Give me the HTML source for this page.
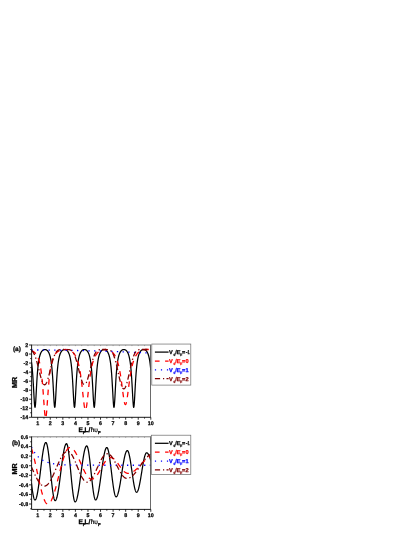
<!DOCTYPE html>
<html><head><meta charset="utf-8"><title>MR</title>
<style>
html,body{margin:0;padding:0;background:#fff;}
body{width:415px;height:537px;overflow:hidden;}
svg{display:block;filter:blur(0.35px);}
text{font-family:"Liberation Sans",sans-serif;font-weight:bold;text-rendering:geometricPrecision;paint-order:stroke;stroke-linejoin:round;}
.tk{font-size:5.3px;fill:#000;stroke:#000;stroke-width:0.25px;}
.lg{font-size:5.6px;stroke-width:0.25px;}
.sb{font-size:3.3px;}
.ax{font-size:6.6px;fill:#000;stroke:#000;stroke-width:0.3px;}
.mr{font-size:7.2px;fill:#000;stroke:#000;stroke-width:0.3px;}
.rg{font-weight:normal;stroke-width:0.2px;}
.sb2{font-size:4.3px;stroke-width:0.3px;}
.pl{font-size:6.5px;fill:#000;stroke:#000;stroke-width:0.25px;}
</style></head><body>
<svg width="415" height="537" viewBox="0 0 415 537">
<defs><clipPath id="ca"><rect x="31.60" y="345.00" width="118.90" height="72.30"/></clipPath><clipPath id="cb"><rect x="31.60" y="436.80" width="118.90" height="72.60"/></clipPath></defs>
<rect width="415" height="537" fill="#fff"/>
<g clip-path="url(#ca)" fill="none" stroke-linejoin="round">
<path d="M31.42,361.80 L31.59,363.01 L31.76,364.34 L31.93,365.81 L32.10,367.41 L32.27,369.18 L32.44,371.11 L32.61,373.22 L32.78,375.52 L32.95,378.02 L33.12,380.70 L33.30,383.56 L33.47,386.58 L33.64,389.71 L33.81,392.88 L33.98,396.03 L34.15,399.03 L34.32,401.76 L34.49,404.08 L34.66,405.86 L34.83,406.98 L35.00,407.36 L35.17,406.98 L35.34,405.86 L35.52,404.08 L35.69,401.76 L35.86,399.02 L36.03,396.02 L36.20,392.88 L36.37,389.70 L36.54,386.57 L36.71,383.56 L36.88,380.70 L37.05,378.01 L37.22,375.52 L37.39,373.22 L37.57,371.11 L37.74,369.17 L37.91,367.41 L38.08,365.80 L38.25,364.34 L38.42,363.01 L38.59,361.80 L38.76,360.69 L38.93,359.69 L39.10,358.77 L39.27,357.93 L39.44,357.17 L39.61,356.47 L39.79,355.83 L39.96,355.24 L40.13,354.71 L40.30,354.21 L40.47,353.76 L40.64,353.34 L40.81,352.96 L40.98,352.61 L41.15,352.29 L41.32,351.99 L41.49,351.72 L41.66,351.47 L41.84,351.24 L42.01,351.03 L42.18,350.83 L42.35,350.66 L42.52,350.50 L42.69,350.35 L42.86,350.22 L43.03,350.10 L43.20,349.99 L43.37,349.90 L43.54,349.81 L43.71,349.74 L43.88,349.68 L44.06,349.63 L44.23,349.59 L44.40,349.56 L44.57,349.53 L44.74,349.52 L44.91,349.52 L45.08,349.53 L45.25,349.54 L45.42,349.57 L45.59,349.60 L45.76,349.65 L45.93,349.70 L46.10,349.77 L46.28,349.85 L46.45,349.94 L46.62,350.04 L46.79,350.15 L46.96,350.27 L47.13,350.41 L47.30,350.56 L47.47,350.73 L47.64,350.91 L47.81,351.11 L47.98,351.33 L48.15,351.57 L48.33,351.83 L48.50,352.11 L48.67,352.42 L48.84,352.76 L49.01,353.12 L49.18,353.52 L49.35,353.95 L49.52,354.42 L49.69,354.93 L49.86,355.48 L50.03,356.09 L50.20,356.76 L50.37,357.48 L50.55,358.28 L50.72,359.15 L50.89,360.10 L51.06,361.15 L51.23,362.30 L51.40,363.56 L51.57,364.94 L51.74,366.47 L51.91,368.14 L52.08,369.97 L52.25,371.98 L52.42,374.17 L52.60,376.55 L52.77,379.13 L52.94,381.89 L53.11,384.82 L53.28,387.89 L53.45,391.05 L53.62,394.22 L53.79,397.32 L53.96,400.22 L54.13,402.80 L54.30,404.91 L54.47,406.42 L54.64,407.23 L54.82,407.29 L54.99,406.59 L55.16,405.18 L55.33,403.16 L55.50,400.64 L55.67,397.78 L55.84,394.71 L56.01,391.54 L56.18,388.37 L56.35,385.28 L56.52,382.33 L56.69,379.54 L56.87,376.94 L57.04,374.52 L57.21,372.30 L57.38,370.27 L57.55,368.41 L57.72,366.71 L57.89,365.17 L58.06,363.76 L58.23,362.48 L58.40,361.32 L58.57,360.26 L58.74,359.29 L58.91,358.41 L59.09,357.60 L59.26,356.86 L59.43,356.19 L59.60,355.58 L59.77,355.01 L59.94,354.49 L60.11,354.02 L60.28,353.58 L60.45,353.18 L60.62,352.81 L60.79,352.47 L60.96,352.16 L61.14,351.87 L61.31,351.61 L61.48,351.37 L61.65,351.15 L61.82,350.94 L61.99,350.76 L62.16,350.59 L62.33,350.43 L62.50,350.29 L62.67,350.17 L62.84,350.05 L63.01,349.95 L63.18,349.86 L63.36,349.78 L63.53,349.71 L63.70,349.66 L63.87,349.61 L64.04,349.57 L64.21,349.55 L64.38,349.53 L64.55,349.52 L64.72,349.52 L64.89,349.53 L65.06,349.55 L65.23,349.58 L65.40,349.62 L65.58,349.67 L65.75,349.73 L65.92,349.80 L66.09,349.88 L66.26,349.98 L66.43,350.08 L66.60,350.20 L66.77,350.33 L66.94,350.47 L67.11,350.63 L67.28,350.81 L67.45,351.00 L67.63,351.20 L67.80,351.43 L67.97,351.68 L68.14,351.95 L68.31,352.24 L68.48,352.56 L68.65,352.91 L68.82,353.28 L68.99,353.69 L69.16,354.14 L69.33,354.63 L69.50,355.16 L69.67,355.74 L69.85,356.37 L70.02,357.06 L70.19,357.81 L70.36,358.64 L70.53,359.54 L70.70,360.53 L70.87,361.62 L71.04,362.81 L71.21,364.13 L71.38,365.57 L71.55,367.15 L71.72,368.89 L71.90,370.80 L72.07,372.88 L72.24,375.15 L72.41,377.62 L72.58,380.27 L72.75,383.11 L72.92,386.10 L73.09,389.22 L73.26,392.39 L73.43,395.55 L73.60,398.58 L73.77,401.36 L73.94,403.75 L74.12,405.62 L74.29,406.85 L74.46,407.35 L74.63,407.08 L74.80,406.08 L74.97,404.39 L75.14,402.15 L75.31,399.47 L75.48,396.50 L75.65,393.37 L75.82,390.19 L75.99,387.05 L76.17,384.02 L76.34,381.13 L76.51,378.42 L76.68,375.89 L76.85,373.56 L77.02,371.42 L77.19,369.46 L77.36,367.67 L77.53,366.04 L77.70,364.56 L77.87,363.21 L78.04,361.98 L78.21,360.86 L78.39,359.84 L78.56,358.91 L78.73,358.06 L78.90,357.28 L79.07,356.57 L79.24,355.92 L79.41,355.33 L79.58,354.79 L79.75,354.29 L79.92,353.83 L80.09,353.41 L80.26,353.02 L80.43,352.66 L80.61,352.34 L80.78,352.04 L80.95,351.76 L81.12,351.51 L81.29,351.27 L81.46,351.06 L81.63,350.86 L81.80,350.68 L81.97,350.52 L82.14,350.37 L82.31,350.24 L82.48,350.12 L82.66,350.01 L82.83,349.91 L83.00,349.83 L83.17,349.75 L83.34,349.69 L83.51,349.64 L83.68,349.59 L83.85,349.56 L84.02,349.54 L84.19,349.52 L84.36,349.52 L84.53,349.52 L84.70,349.54 L84.88,349.56 L85.05,349.60 L85.22,349.64 L85.39,349.70 L85.56,349.76 L85.73,349.84 L85.90,349.92 L86.07,350.02 L86.24,350.13 L86.41,350.25 L86.58,350.39 L86.75,350.54 L86.93,350.70 L87.10,350.88 L87.27,351.08 L87.44,351.30 L87.61,351.53 L87.78,351.79 L87.95,352.07 L88.12,352.37 L88.29,352.70 L88.46,353.06 L88.63,353.45 L88.80,353.88 L88.97,354.34 L89.15,354.85 L89.32,355.40 L89.49,356.00 L89.66,356.65 L89.83,357.37 L90.00,358.15 L90.17,359.01 L90.34,359.95 L90.51,360.98 L90.68,362.11 L90.85,363.35 L91.02,364.72 L91.20,366.22 L91.37,367.87 L91.54,369.68 L91.71,371.66 L91.88,373.82 L92.05,376.17 L92.22,378.72 L92.39,381.45 L92.56,384.35 L92.73,387.41 L92.90,390.55 L93.07,393.73 L93.24,396.85 L93.42,399.79 L93.59,402.43 L93.76,404.61 L93.93,406.23 L94.10,407.15 L94.27,407.33 L94.44,406.75 L94.61,405.44 L94.78,403.50 L94.95,401.06 L95.12,398.24 L95.29,395.19 L95.47,392.03 L95.64,388.86 L95.81,385.75 L95.98,382.78 L96.15,379.96 L96.32,377.33 L96.49,374.89 L96.66,372.64 L96.83,370.57 L97.00,368.69 L97.17,366.97 L97.34,365.40 L97.51,363.97 L97.69,362.67 L97.86,361.49 L98.03,360.41 L98.20,359.43 L98.37,358.54 L98.54,357.72 L98.71,356.97 L98.88,356.29 L99.05,355.67 L99.22,355.09 L99.39,354.57 L99.56,354.09 L99.73,353.65 L99.91,353.24 L100.08,352.87 L100.25,352.52 L100.42,352.21 L100.59,351.92 L100.76,351.65 L100.93,351.40 L101.10,351.18 L101.27,350.97 L101.44,350.79 L101.61,350.61 L101.78,350.46 L101.96,350.31 L102.13,350.18 L102.30,350.07 L102.47,349.97 L102.64,349.87 L102.81,349.79 L102.98,349.72 L103.15,349.67 L103.32,349.62 L103.49,349.58 L103.66,349.55 L103.83,349.53 L104.00,349.52 L104.18,349.52 L104.35,349.53 L104.52,349.55 L104.69,349.58 L104.86,349.61 L105.03,349.66 L105.20,349.72 L105.37,349.79 L105.54,349.87 L105.71,349.96 L105.88,350.06 L106.05,350.18 L106.23,350.31 L106.40,350.45 L106.57,350.61 L106.74,350.78 L106.91,350.97 L107.08,351.17 L107.25,351.39 L107.42,351.64 L107.59,351.90 L107.76,352.19 L107.93,352.51 L108.10,352.85 L108.27,353.22 L108.45,353.63 L108.62,354.07 L108.79,354.55 L108.96,355.07 L109.13,355.64 L109.30,356.26 L109.47,356.94 L109.64,357.69 L109.81,358.50 L109.98,359.39 L110.15,360.37 L110.32,361.44 L110.50,362.62 L110.67,363.92 L110.84,365.34 L111.01,366.90 L111.18,368.61 L111.35,370.49 L111.52,372.55 L111.69,374.79 L111.86,377.22 L112.03,379.85 L112.20,382.66 L112.37,385.63 L112.54,388.73 L112.72,391.90 L112.89,395.06 L113.06,398.12 L113.23,400.95 L113.40,403.41 L113.57,405.37 L113.74,406.71 L113.91,407.32 L114.08,407.18 L114.25,406.28 L114.42,404.69 L114.59,402.53 L114.77,399.91 L114.94,396.97 L115.11,393.86 L115.28,390.69 L115.45,387.53 L115.62,384.48 L115.79,381.57 L115.96,378.82 L116.13,376.27 L116.30,373.91 L116.47,371.74 L116.64,369.76 L116.81,367.94 L116.99,366.29 L117.16,364.78 L117.33,363.41 L117.50,362.16 L117.67,361.02 L117.84,359.99 L118.01,359.04 L118.18,358.18 L118.35,357.40 L118.52,356.68 L118.69,356.02 L118.86,355.42 L119.03,354.87 L119.21,354.36 L119.38,353.90 L119.55,353.47 L119.72,353.08 L119.89,352.72 L120.06,352.39 L120.23,352.08 L120.40,351.80 L120.57,351.54 L120.74,351.31 L120.91,351.09 L121.08,350.89 L121.26,350.71 L121.43,350.54 L121.60,350.39 L121.77,350.26 L121.94,350.13 L122.11,350.02 L122.28,349.93 L122.45,349.84 L122.62,349.76 L122.79,349.70 L122.96,349.64 L123.13,349.60 L123.30,349.56 L123.48,349.54 L123.65,349.52 L123.82,349.52 L123.99,349.52 L124.16,349.54 L124.33,349.56 L124.50,349.59 L124.67,349.63 L124.84,349.69 L125.01,349.75 L125.18,349.82 L125.35,349.91 L125.53,350.00 L125.70,350.11 L125.87,350.23 L126.04,350.37 L126.21,350.51 L126.38,350.68 L126.55,350.85 L126.72,351.05 L126.89,351.26 L127.06,351.50 L127.23,351.75 L127.40,352.02 L127.57,352.32 L127.75,352.65 L127.92,353.00 L128.09,353.39 L128.26,353.81 L128.43,354.27 L128.60,354.76 L128.77,355.31 L128.94,355.90 L129.11,356.54 L129.28,357.25 L129.45,358.02 L129.62,358.87 L129.80,359.80 L129.97,360.81 L130.14,361.93 L130.31,363.15 L130.48,364.50 L130.65,365.98 L130.82,367.60 L130.99,369.39 L131.16,371.34 L131.33,373.47 L131.50,375.79 L131.67,378.31 L131.84,381.01 L132.02,383.89 L132.19,386.92 L132.36,390.06 L132.53,393.24 L132.70,396.37 L132.87,399.35 L133.04,402.04 L133.21,404.31 L133.38,406.02 L133.55,407.06 L133.72,407.35 L133.89,406.89 L134.06,405.69 L134.24,403.84 L134.41,401.47 L134.58,398.70 L134.75,395.68 L134.92,392.52 L135.09,389.35 L135.26,386.23 L135.43,383.23 L135.60,380.39 L135.77,377.72 L135.94,375.25 L136.11,372.97 L136.29,370.88 L136.46,368.97 L136.63,367.22 L136.80,365.63 L136.97,364.18 L137.14,362.87 L137.31,361.67 L137.48,360.57 L137.65,359.58 L137.82,358.67 L137.99,357.84 L138.16,357.09 L138.33,356.39 L138.51,355.76 L138.68,355.18 L138.85,354.65 L139.02,354.16 L139.19,353.71 L139.36,353.30 L139.53,352.92 L139.70,352.57 L139.87,352.25 L140.04,351.96 L140.21,351.69 L140.38,351.44 L140.56,351.21 L140.73,351.00 L140.90,350.81 L141.07,350.64 L141.24,350.48 L141.41,350.33 L141.58,350.20 L141.75,350.09 L141.92,349.98 L142.09,349.89 L142.26,349.81 L142.43,349.73 L142.60,349.67 L142.78,349.62 L142.95,349.58 L143.12,349.55 L143.29,349.53 L143.46,349.52 L143.63,349.52 L143.80,349.53 L143.97,349.54 L144.14,349.57 L144.31,349.61 L144.48,349.65 L144.65,349.71 L144.83,349.78 L145.00,349.86 L145.17,349.95 L145.34,350.05 L145.51,350.16 L145.68,350.29 L145.85,350.43 L146.02,350.58 L146.19,350.75 L146.36,350.94 L146.53,351.14 L146.70,351.36 L146.87,351.60 L147.05,351.86 L147.22,352.15 L147.39,352.46 L147.56,352.80 L147.73,353.16 L147.90,353.56 L148.07,354.00 L148.24,354.47 L148.41,354.99 L148.58,355.55 L148.75,356.16 L148.92,356.84 L149.10,357.57 L149.27,358.37 L149.44,359.25 L149.61,360.21 L149.78,361.27 L149.95,362.43 L150.12,363.71 L150.29,365.11 L150.46,366.65 L150.63,368.34 L150.80,370.19" stroke="#000" stroke-width="1.25"/>
<path d="M31.42,350.53 L31.53,350.57 L31.64,350.62 L31.76,350.67 L31.87,350.72 L31.99,350.77 L32.10,350.83 L32.21,350.88 L32.33,350.94 L32.44,350.99 L32.56,351.05 L32.67,351.12 L32.78,351.18 L32.90,351.24 L33.01,351.31 L33.13,351.38 L33.24,351.45 L33.35,351.53 L33.47,351.60 L33.58,351.68 L33.69,351.76 L33.81,351.84 L33.92,351.93 L34.04,352.01 L34.15,352.10 L34.26,352.20 L34.38,352.29 L34.49,352.39 L34.61,352.49 L34.72,352.60 L34.83,352.71 L34.95,352.82 L35.06,352.93 L35.18,353.05 L35.29,353.17 L35.40,353.30 L35.52,353.43 L35.63,353.56 L35.74,353.70 L35.86,353.85 L35.97,353.99 L36.09,354.15 L36.20,354.30 L36.31,354.47 L36.43,354.63 L36.54,354.81 L36.66,354.99 L36.77,355.17 L36.88,355.37 L37.00,355.56 L37.11,355.77 L37.23,355.98 L37.34,356.20 L37.45,356.43 L37.57,356.67 L37.68,356.91 L37.79,357.17 L37.91,357.43 L38.02,357.70 L38.14,357.98 L38.25,358.28 L38.36,358.58 L38.48,358.90 L38.59,359.23 L38.71,359.57 L38.82,359.92 L38.93,360.29 L39.05,360.67 L39.16,361.07 L39.28,361.48 L39.39,361.91 L39.50,362.36 L39.62,362.82 L39.73,363.31 L39.85,363.81 L39.96,364.34 L40.07,364.88 L40.19,365.45 L40.30,366.05 L40.41,366.67 L40.53,367.31 L40.64,367.98 L40.76,368.68 L40.87,369.41 L40.98,370.17 L41.10,370.97 L41.21,371.80 L41.33,372.66 L41.44,373.56 L41.55,374.49 L41.67,375.46 L41.78,376.48 L41.90,377.53 L42.01,378.63 L42.12,379.77 L42.24,380.95 L42.35,382.18 L42.46,383.45 L42.58,384.77 L42.69,386.12 L42.81,387.52 L42.92,388.97 L43.03,390.45 L43.15,391.97 L43.26,393.52 L43.38,395.09 L43.49,396.70 L43.60,398.32 L43.72,399.95 L43.83,401.58 L43.95,403.20 L44.06,404.81 L44.17,406.38 L44.29,407.92 L44.40,409.40 L44.52,410.81 L44.63,412.13 L44.74,413.36 L44.86,414.48 L44.97,415.47 L45.08,416.33 L45.20,417.03 L45.31,417.58 L45.43,417.96 L45.54,418.16 L45.65,418.19 L45.77,418.05 L45.88,417.73 L46.00,417.24 L46.11,416.59 L46.22,415.79 L46.34,414.84 L46.45,413.77 L46.57,412.58 L46.68,411.28 L46.79,409.90 L46.91,408.44 L47.02,406.93 L47.13,405.36 L47.25,403.77 L47.36,402.15 L47.48,400.52 L47.59,398.89 L47.70,397.26 L47.82,395.65 L47.93,394.07 L48.05,392.51 L48.16,390.98 L48.27,389.48 L48.39,388.03 L48.50,386.61 L48.62,385.24 L48.73,383.91 L48.84,382.62 L48.96,381.38 L49.07,380.18 L49.19,379.02 L49.30,377.91 L49.41,376.84 L49.53,375.82 L49.64,374.83 L49.75,373.88 L49.87,372.97 L49.98,372.09 L50.10,371.25 L50.21,370.45 L50.32,369.68 L50.44,368.94 L50.55,368.22 L50.67,367.54 L50.78,366.89 L50.89,366.26 L51.01,365.66 L51.12,365.08 L51.24,364.53 L51.35,363.99 L51.46,363.48 L51.58,362.99 L51.69,362.52 L51.80,362.07 L51.92,361.63 L52.03,361.21 L52.15,360.81 L52.26,360.42 L52.37,360.05 L52.49,359.69 L52.60,359.34 L52.72,359.01 L52.83,358.69 L52.94,358.38 L53.06,358.09 L53.17,357.80 L53.29,357.52 L53.40,357.26 L53.51,357.00 L53.63,356.75 L53.74,356.51 L53.86,356.28 L53.97,356.06 L54.08,355.84 L54.20,355.64 L54.31,355.43 L54.42,355.24 L54.54,355.05 L54.65,354.87 L54.77,354.69 L54.88,354.52 L54.99,354.36 L55.11,354.20 L55.22,354.05 L55.34,353.90 L55.45,353.75 L55.56,353.61 L55.68,353.48 L55.79,353.35 L55.91,353.22 L56.02,353.09 L56.13,352.97 L56.25,352.86 L56.36,352.75 L56.47,352.64 L56.59,352.53 L56.70,352.43 L56.82,352.33 L56.93,352.23 L57.04,352.14 L57.16,352.05 L57.27,351.96 L57.39,351.87 L57.50,351.79 L57.61,351.71 L57.73,351.63 L57.84,351.55 L57.96,351.48 L58.07,351.41 L58.18,351.34 L58.30,351.27 L58.41,351.20 L58.53,351.14 L58.64,351.08 L58.75,351.02 L58.87,350.96 L58.98,350.90 L59.09,350.84 L59.21,350.79 L59.32,350.74 L59.44,350.69 L59.55,350.64 L59.66,350.59 L59.78,350.54 L59.89,350.50 L60.01,350.46 L60.12,350.41 L60.23,350.37 L60.35,350.33 L60.46,350.29 L60.58,350.26 L60.69,350.22 L60.80,350.19 L60.92,350.15 L61.03,350.12 L61.14,350.09 L61.26,350.06 L61.37,350.03 L61.49,350.00 L61.60,349.97 L61.71,349.94 L61.83,349.92 L61.94,349.89 L62.06,349.87 L62.17,349.84 L62.28,349.82 L62.40,349.80 L62.51,349.78 L62.63,349.76 L62.74,349.74 L62.85,349.72 L62.97,349.71 L63.08,349.69 L63.20,349.68 L63.31,349.66 L63.42,349.65 L63.54,349.63 L63.65,349.62 L63.76,349.61 L63.88,349.60 L63.99,349.59 L64.11,349.58 L64.22,349.57 L64.33,349.56 L64.45,349.55 L64.56,349.55 L64.68,349.54 L64.79,349.54 L64.90,349.53 L65.02,349.53 L65.13,349.52 L65.25,349.52 L65.36,349.52 L65.47,349.52" stroke="#ff0000" stroke-width="1.3" stroke-dasharray="5.5 5" stroke-dashoffset="0.00"/>
<path d="M65.47,349.52 L65.61,349.52 L65.74,349.52 L65.87,349.53 L66.01,349.53 L66.14,349.54 L66.28,349.55 L66.41,349.56 L66.54,349.57 L66.68,349.58 L66.81,349.60 L66.94,349.61 L67.08,349.63 L67.21,349.65 L67.34,349.67 L67.48,349.70 L67.61,349.72 L67.75,349.75 L67.88,349.77 L68.01,349.80 L68.15,349.84 L68.28,349.87 L68.41,349.90 L68.55,349.94 L68.68,349.98 L68.81,350.02 L68.95,350.06 L69.08,350.11 L69.22,350.15 L69.35,350.20 L69.48,350.25 L69.62,350.31 L69.75,350.36 L69.88,350.42 L70.02,350.48 L70.15,350.54 L70.28,350.60 L70.42,350.67 L70.55,350.74 L70.69,350.81 L70.82,350.89 L70.95,350.96 L71.09,351.04 L71.22,351.12 L71.35,351.21 L71.49,351.30 L71.62,351.39 L71.75,351.48 L71.89,351.58 L72.02,351.68 L72.16,351.78 L72.29,351.89 L72.42,352.00 L72.56,352.12 L72.69,352.23 L72.82,352.36 L72.96,352.48 L73.09,352.61 L73.23,352.75 L73.36,352.89 L73.49,353.03 L73.63,353.18 L73.76,353.33 L73.89,353.49 L74.03,353.65 L74.16,353.82 L74.29,354.00 L74.43,354.18 L74.56,354.36 L74.70,354.56 L74.83,354.75 L74.96,354.96 L75.10,355.17 L75.23,355.39 L75.36,355.62 L75.50,355.85 L75.63,356.09 L75.76,356.35 L75.90,356.60 L76.03,356.87 L76.17,357.15 L76.30,357.44 L76.43,357.73 L76.57,358.04 L76.70,358.36 L76.83,358.69 L76.97,359.03 L77.10,359.38 L77.23,359.75 L77.37,360.12 L77.50,360.52 L77.64,360.92 L77.77,361.34 L77.90,361.78 L78.04,362.23 L78.17,362.70 L78.30,363.18 L78.44,363.68 L78.57,364.20 L78.70,364.74 L78.84,365.30 L78.97,365.88 L79.11,366.48 L79.24,367.10 L79.37,367.74 L79.51,368.41 L79.64,369.10 L79.77,369.82 L79.91,370.56 L80.04,371.32 L80.18,372.12 L80.31,372.94 L80.44,373.79 L80.58,374.66 L80.71,375.57 L80.84,376.50 L80.98,377.46 L81.11,378.45 L81.24,379.47 L81.38,380.52 L81.51,381.60 L81.65,382.71 L81.78,383.84 L81.91,384.99 L82.05,386.17 L82.18,387.37 L82.31,388.59 L82.45,389.83 L82.58,391.08 L82.71,392.34 L82.85,393.60 L82.98,394.87 L83.12,396.13 L83.25,397.37 L83.38,398.61 L83.52,399.81 L83.65,400.99 L83.78,402.13 L83.92,403.22 L84.05,404.26 L84.18,405.24 L84.32,406.14 L84.45,406.97 L84.59,407.71 L84.72,408.37 L84.85,408.92 L84.99,409.37 L85.12,409.71 L85.25,409.94 L85.39,410.06 L85.52,410.06 L85.66,409.94 L85.79,409.71 L85.92,409.37 L86.06,408.92 L86.19,408.37 L86.32,407.71 L86.46,406.97 L86.59,406.14 L86.72,405.24 L86.86,404.26 L86.99,403.22 L87.13,402.13 L87.26,400.99 L87.39,399.81 L87.53,398.61 L87.66,397.37 L87.79,396.13 L87.93,394.87 L88.06,393.60 L88.19,392.34 L88.33,391.08 L88.46,389.83 L88.60,388.59 L88.73,387.37 L88.86,386.17 L89.00,384.99 L89.13,383.84 L89.26,382.71 L89.40,381.60 L89.53,380.52 L89.66,379.47 L89.80,378.45 L89.93,377.46 L90.07,376.50 L90.20,375.57 L90.33,374.66 L90.47,373.79 L90.60,372.94 L90.73,372.12 L90.87,371.32 L91.00,370.56 L91.13,369.82 L91.27,369.10 L91.40,368.41 L91.54,367.74 L91.67,367.10 L91.80,366.48 L91.94,365.88 L92.07,365.30 L92.20,364.74 L92.34,364.20 L92.47,363.68 L92.61,363.18 L92.74,362.70 L92.87,362.23 L93.01,361.78 L93.14,361.34 L93.27,360.92 L93.41,360.52 L93.54,360.12 L93.67,359.75 L93.81,359.38 L93.94,359.03 L94.08,358.69 L94.21,358.36 L94.34,358.04 L94.48,357.73 L94.61,357.44 L94.74,357.15 L94.88,356.87 L95.01,356.60 L95.14,356.35 L95.28,356.09 L95.41,355.85 L95.55,355.62 L95.68,355.39 L95.81,355.17 L95.95,354.96 L96.08,354.75 L96.21,354.56 L96.35,354.36 L96.48,354.18 L96.61,354.00 L96.75,353.82 L96.88,353.65 L97.02,353.49 L97.15,353.33 L97.28,353.18 L97.42,353.03 L97.55,352.89 L97.68,352.75 L97.82,352.61 L97.95,352.48 L98.09,352.36 L98.22,352.23 L98.35,352.12 L98.49,352.00 L98.62,351.89 L98.75,351.78 L98.89,351.68 L99.02,351.58 L99.15,351.48 L99.29,351.39 L99.42,351.30 L99.56,351.21 L99.69,351.12 L99.82,351.04 L99.96,350.96 L100.09,350.89 L100.22,350.81 L100.36,350.74 L100.49,350.67 L100.62,350.60 L100.76,350.54 L100.89,350.48 L101.03,350.42 L101.16,350.36 L101.29,350.31 L101.43,350.25 L101.56,350.20 L101.69,350.15 L101.83,350.11 L101.96,350.06 L102.09,350.02 L102.23,349.98 L102.36,349.94 L102.50,349.90 L102.63,349.87 L102.76,349.84 L102.90,349.80 L103.03,349.77 L103.16,349.75 L103.30,349.72 L103.43,349.70 L103.56,349.67 L103.70,349.65 L103.83,349.63 L103.97,349.61 L104.10,349.60 L104.23,349.58 L104.37,349.57 L104.50,349.56 L104.63,349.55 L104.77,349.54 L104.90,349.53 L105.04,349.53 L105.17,349.52 L105.30,349.52 L105.44,349.52" stroke="#ff0000" stroke-width="1.3" stroke-dasharray="5.5 5" stroke-dashoffset="3.05"/>
<path d="M105.44,349.52 L105.59,349.52 L105.74,349.52 L105.89,349.53 L106.04,349.54 L106.19,349.55 L106.35,349.56 L106.50,349.57 L106.65,349.59 L106.80,349.61 L106.95,349.63 L107.11,349.66 L107.26,349.68 L107.41,349.71 L107.56,349.74 L107.71,349.78 L107.86,349.81 L108.02,349.85 L108.17,349.89 L108.32,349.94 L108.47,349.99 L108.62,350.03 L108.77,350.09 L108.93,350.14 L109.08,350.20 L109.23,350.26 L109.38,350.32 L109.53,350.39 L109.68,350.46 L109.84,350.53 L109.99,350.61 L110.14,350.69 L110.29,350.77 L110.44,350.86 L110.59,350.95 L110.75,351.04 L110.90,351.14 L111.05,351.24 L111.20,351.34 L111.35,351.45 L111.51,351.57 L111.66,351.68 L111.81,351.81 L111.96,351.93 L112.11,352.06 L112.26,352.20 L112.42,352.34 L112.57,352.49 L112.72,352.64 L112.87,352.80 L113.02,352.96 L113.17,353.13 L113.33,353.30 L113.48,353.48 L113.63,353.67 L113.78,353.86 L113.93,354.06 L114.08,354.27 L114.24,354.49 L114.39,354.71 L114.54,354.94 L114.69,355.18 L114.84,355.43 L115.00,355.69 L115.15,355.96 L115.30,356.23 L115.45,356.52 L115.60,356.82 L115.75,357.12 L115.91,357.44 L116.06,357.77 L116.21,358.12 L116.36,358.47 L116.51,358.84 L116.66,359.22 L116.82,359.62 L116.97,360.03 L117.12,360.45 L117.27,360.90 L117.42,361.35 L117.57,361.83 L117.73,362.32 L117.88,362.83 L118.03,363.36 L118.18,363.91 L118.33,364.48 L118.48,365.07 L118.64,365.68 L118.79,366.31 L118.94,366.97 L119.09,367.65 L119.24,368.36 L119.40,369.08 L119.55,369.84 L119.70,370.62 L119.85,371.43 L120.00,372.26 L120.15,373.12 L120.31,374.01 L120.46,374.93 L120.61,375.87 L120.76,376.84 L120.91,377.84 L121.06,378.86 L121.22,379.91 L121.37,380.98 L121.52,382.07 L121.67,383.19 L121.82,384.32 L121.97,385.48 L122.13,386.64 L122.28,387.81 L122.43,388.99 L122.58,390.17 L122.73,391.35 L122.88,392.52 L123.04,393.68 L123.19,394.81 L123.34,395.92 L123.49,397.00 L123.64,398.03 L123.80,399.01 L123.95,399.94 L124.10,400.80 L124.25,401.59 L124.40,402.31 L124.55,402.94 L124.71,403.47 L124.86,403.92 L125.01,404.26 L125.16,404.49 L125.31,404.62 L125.46,404.64 L125.62,404.55 L125.77,404.36 L125.92,404.06 L126.07,403.66 L126.22,403.15 L126.37,402.56 L126.53,401.88 L126.68,401.12 L126.83,400.28 L126.98,399.38 L127.13,398.41 L127.29,397.40 L127.44,396.34 L127.59,395.24 L127.74,394.12 L127.89,392.97 L128.04,391.80 L128.20,390.63 L128.35,389.45 L128.50,388.27 L128.65,387.09 L128.80,385.92 L128.95,384.77 L129.11,383.62 L129.26,382.50 L129.41,381.40 L129.56,380.32 L129.71,379.26 L129.86,378.23 L130.02,377.22 L130.17,376.24 L130.32,375.29 L130.47,374.36 L130.62,373.46 L130.77,372.59 L130.93,371.75 L131.08,370.93 L131.23,370.14 L131.38,369.37 L131.53,368.63 L131.69,367.92 L131.84,367.23 L131.99,366.56 L132.14,365.92 L132.29,365.30 L132.44,364.70 L132.60,364.13 L132.75,363.57 L132.90,363.03 L133.05,362.51 L133.20,362.02 L133.35,361.53 L133.51,361.07 L133.66,360.62 L133.81,360.19 L133.96,359.77 L134.11,359.37 L134.26,358.99 L134.42,358.61 L134.57,358.25 L134.72,357.90 L134.87,357.57 L135.02,357.25 L135.17,356.93 L135.33,356.63 L135.48,356.34 L135.63,356.06 L135.78,355.79 L135.93,355.53 L136.09,355.28 L136.24,355.04 L136.39,354.80 L136.54,354.57 L136.69,354.36 L136.84,354.14 L137.00,353.94 L137.15,353.74 L137.30,353.55 L137.45,353.37 L137.60,353.19 L137.75,353.02 L137.91,352.86 L138.06,352.70 L138.21,352.54 L138.36,352.40 L138.51,352.25 L138.66,352.12 L138.82,351.98 L138.97,351.85 L139.12,351.73 L139.27,351.61 L139.42,351.50 L139.58,351.39 L139.73,351.28 L139.88,351.18 L140.03,351.08 L140.18,350.98 L140.33,350.89 L140.49,350.80 L140.64,350.72 L140.79,350.64 L140.94,350.56 L141.09,350.49 L141.24,350.42 L141.40,350.35 L141.55,350.28 L141.70,350.22 L141.85,350.16 L142.00,350.11 L142.15,350.05 L142.31,350.00 L142.46,349.96 L142.61,349.91 L142.76,349.87 L142.91,349.83 L143.06,349.79 L143.22,349.76 L143.37,349.72 L143.52,349.69 L143.67,349.67 L143.82,349.64 L143.98,349.62 L144.13,349.60 L144.28,349.58 L144.43,349.57 L144.58,349.55 L144.73,349.54 L144.89,349.53 L145.04,349.53 L145.19,349.52 L145.34,349.52 L145.49,349.52 L145.64,349.52 L145.80,349.52 L145.95,349.52 L146.10,349.52 L146.25,349.52 L146.40,349.52 L146.55,349.52 L146.71,349.52 L146.86,349.52 L147.01,349.52 L147.16,349.52 L147.31,349.52 L147.46,349.52 L147.62,349.52 L147.77,349.52 L147.92,349.52 L148.07,349.52 L148.22,349.52 L148.38,349.52 L148.53,349.52 L148.68,349.52 L148.83,349.52 L148.98,349.52 L149.13,349.52 L149.29,349.52 L149.44,349.52 L149.59,349.52 L149.74,349.52 L149.89,349.52 L150.04,349.52 L150.20,349.52 L150.35,349.52 L150.50,349.52 L150.65,349.52 L150.80,349.52" stroke="#ff0000" stroke-width="1.3" stroke-dasharray="5.5 5" stroke-dashoffset="3.40"/>
<path d="M31.42,349.98 L31.59,349.98 L31.76,349.98 L31.93,349.98 L32.10,349.98 L32.27,349.98 L32.44,349.98 L32.61,349.98 L32.78,349.98 L32.95,349.98 L33.12,349.98 L33.30,349.98 L33.47,349.98 L33.64,349.99 L33.81,349.99 L33.98,349.99 L34.15,349.99 L34.32,349.99 L34.49,349.99 L34.66,349.99 L34.83,349.99 L35.00,349.99 L35.17,349.99 L35.34,349.99 L35.52,349.99 L35.69,349.99 L35.86,349.99 L36.03,349.99 L36.20,350.00 L36.37,350.00 L36.54,350.00 L36.71,350.00 L36.88,350.00 L37.05,350.00 L37.22,350.00 L37.39,350.00 L37.57,350.00 L37.74,350.00 L37.91,350.00 L38.08,350.00 L38.25,350.01 L38.42,350.01 L38.59,350.01 L38.76,350.01 L38.93,350.01 L39.10,350.01 L39.27,350.01 L39.44,350.01 L39.61,350.01 L39.79,350.01 L39.96,350.01 L40.13,350.02 L40.30,350.02 L40.47,350.02 L40.64,350.02 L40.81,350.02 L40.98,350.02 L41.15,350.02 L41.32,350.02 L41.49,350.02 L41.66,350.03 L41.84,350.03 L42.01,350.03 L42.18,350.03 L42.35,350.03 L42.52,350.03 L42.69,350.03 L42.86,350.03 L43.03,350.03 L43.20,350.04 L43.37,350.04 L43.54,350.04 L43.71,350.04 L43.88,350.04 L44.06,350.04 L44.23,350.04 L44.40,350.04 L44.57,350.05 L44.74,350.05 L44.91,350.05 L45.08,350.05 L45.25,350.05 L45.42,350.05 L45.59,350.05 L45.76,350.06 L45.93,350.06 L46.10,350.06 L46.28,350.06 L46.45,350.06 L46.62,350.06 L46.79,350.06 L46.96,350.07 L47.13,350.07 L47.30,350.07 L47.47,350.07 L47.64,350.07 L47.81,350.07 L47.98,350.08 L48.15,350.08 L48.33,350.08 L48.50,350.08 L48.67,350.08 L48.84,350.08 L49.01,350.08 L49.18,350.09 L49.35,350.09 L49.52,350.09 L49.69,350.09 L49.86,350.09 L50.03,350.09 L50.20,350.10 L50.37,350.10 L50.55,350.10 L50.72,350.10 L50.89,350.10 L51.06,350.11 L51.23,350.11 L51.40,350.11 L51.57,350.11 L51.74,350.11 L51.91,350.11 L52.08,350.12 L52.25,350.12 L52.42,350.12 L52.60,350.12 L52.77,350.12 L52.94,350.13 L53.11,350.13 L53.28,350.13 L53.45,350.13 L53.62,350.13 L53.79,350.14 L53.96,350.14 L54.13,350.14 L54.30,350.14 L54.47,350.14 L54.64,350.15 L54.82,350.15 L54.99,350.15 L55.16,350.15 L55.33,350.15 L55.50,350.16 L55.67,350.16 L55.84,350.16 L56.01,350.16 L56.18,350.16 L56.35,350.17 L56.52,350.17 L56.69,350.17 L56.87,350.17 L57.04,350.17 L57.21,350.18 L57.38,350.18 L57.55,350.18 L57.72,350.18 L57.89,350.19 L58.06,350.19 L58.23,350.19 L58.40,350.19 L58.57,350.19 L58.74,350.20 L58.91,350.20 L59.09,350.20 L59.26,350.20 L59.43,350.21 L59.60,350.21 L59.77,350.21 L59.94,350.21 L60.11,350.22 L60.28,350.22 L60.45,350.22 L60.62,350.22 L60.79,350.23 L60.96,350.23 L61.14,350.23 L61.31,350.23 L61.48,350.24 L61.65,350.24 L61.82,350.24 L61.99,350.24 L62.16,350.25 L62.33,350.25 L62.50,350.25 L62.67,350.25 L62.84,350.26 L63.01,350.26 L63.18,350.26 L63.36,350.26 L63.53,350.27 L63.70,350.27 L63.87,350.27 L64.04,350.27 L64.21,350.28 L64.38,350.28 L64.55,350.28 L64.72,350.28 L64.89,350.29 L65.06,350.29 L65.23,350.29 L65.40,350.30 L65.58,350.30 L65.75,350.30 L65.92,350.30 L66.09,350.31 L66.26,350.31 L66.43,350.31 L66.60,350.32 L66.77,350.32 L66.94,350.32 L67.11,350.32 L67.28,350.33 L67.45,350.33 L67.63,350.33 L67.80,350.34 L67.97,350.34 L68.14,350.34 L68.31,350.34 L68.48,350.35 L68.65,350.35 L68.82,350.35 L68.99,350.36 L69.16,350.36 L69.33,350.36 L69.50,350.36 L69.67,350.37 L69.85,350.37 L70.02,350.37 L70.19,350.38 L70.36,350.38 L70.53,350.38 L70.70,350.39 L70.87,350.39 L71.04,350.39 L71.21,350.40 L71.38,350.40 L71.55,350.40 L71.72,350.41 L71.90,350.41 L72.07,350.41 L72.24,350.42 L72.41,350.42 L72.58,350.42 L72.75,350.42 L72.92,350.43 L73.09,350.43 L73.26,350.43 L73.43,350.44 L73.60,350.44 L73.77,350.44 L73.94,350.45 L74.12,350.45 L74.29,350.45 L74.46,350.46 L74.63,350.46 L74.80,350.46 L74.97,350.47 L75.14,350.47 L75.31,350.47 L75.48,350.48 L75.65,350.48 L75.82,350.49 L75.99,350.49 L76.17,350.49 L76.34,350.50 L76.51,350.50 L76.68,350.50 L76.85,350.51 L77.02,350.51 L77.19,350.51 L77.36,350.52 L77.53,350.52 L77.70,350.52 L77.87,350.53 L78.04,350.53 L78.21,350.53 L78.39,350.54 L78.56,350.54 L78.73,350.55 L78.90,350.55 L79.07,350.55 L79.24,350.56 L79.41,350.56 L79.58,350.56 L79.75,350.57 L79.92,350.57 L80.09,350.58 L80.26,350.58 L80.43,350.58 L80.61,350.59 L80.78,350.59 L80.95,350.59 L81.12,350.60 L81.29,350.60 L81.46,350.61 L81.63,350.61 L81.80,350.61 L81.97,350.62 L82.14,350.62 L82.31,350.63 L82.48,350.63 L82.66,350.63 L82.83,350.64 L83.00,350.64 L83.17,350.65 L83.34,350.65 L83.51,350.65 L83.68,350.66 L83.85,350.66 L84.02,350.67 L84.19,350.67 L84.36,350.67 L84.53,350.68 L84.70,350.68 L84.88,350.69 L85.05,350.69 L85.22,350.69 L85.39,350.70 L85.56,350.70 L85.73,350.71 L85.90,350.71 L86.07,350.71 L86.24,350.72 L86.41,350.72 L86.58,350.73 L86.75,350.73 L86.93,350.74 L87.10,350.74 L87.27,350.74 L87.44,350.75 L87.61,350.75 L87.78,350.76 L87.95,350.76 L88.12,350.77 L88.29,350.77 L88.46,350.77 L88.63,350.78 L88.80,350.78 L88.97,350.79 L89.15,350.79 L89.32,350.80 L89.49,350.80 L89.66,350.80 L89.83,350.81 L90.00,350.81 L90.17,350.82 L90.34,350.82 L90.51,350.83 L90.68,350.83 L90.85,350.84 L91.02,350.84 L91.20,350.84 L91.37,350.85 L91.54,350.85 L91.71,350.86 L91.88,350.86 L92.05,350.87 L92.22,350.87 L92.39,350.88 L92.56,350.88 L92.73,350.89 L92.90,350.89 L93.07,350.90 L93.24,350.90 L93.42,350.90 L93.59,350.91 L93.76,350.91 L93.93,350.92 L94.10,350.92 L94.27,350.93 L94.44,350.93 L94.61,350.94 L94.78,350.94 L94.95,350.95 L95.12,350.95 L95.29,350.96 L95.47,350.96 L95.64,350.97 L95.81,350.97 L95.98,350.98 L96.15,350.98 L96.32,350.99 L96.49,350.99 L96.66,351.00 L96.83,351.00 L97.00,351.01 L97.17,351.01 L97.34,351.02 L97.51,351.02 L97.69,351.02 L97.86,351.03 L98.03,351.03 L98.20,351.04 L98.37,351.04 L98.54,351.05 L98.71,351.05 L98.88,351.06 L99.05,351.06 L99.22,351.07 L99.39,351.08 L99.56,351.08 L99.73,351.09 L99.91,351.09 L100.08,351.10 L100.25,351.10 L100.42,351.11 L100.59,351.11 L100.76,351.12 L100.93,351.12 L101.10,351.13 L101.27,351.13 L101.44,351.14 L101.61,351.14 L101.78,351.15 L101.96,351.15 L102.13,351.16 L102.30,351.16 L102.47,351.17 L102.64,351.17 L102.81,351.18 L102.98,351.18 L103.15,351.19 L103.32,351.20 L103.49,351.20 L103.66,351.21 L103.83,351.21 L104.00,351.22 L104.18,351.22 L104.35,351.23 L104.52,351.23 L104.69,351.24 L104.86,351.24 L105.03,351.25 L105.20,351.25 L105.37,351.26 L105.54,351.27 L105.71,351.27 L105.88,351.28 L106.05,351.28 L106.23,351.29 L106.40,351.29 L106.57,351.30 L106.74,351.30 L106.91,351.31 L107.08,351.32 L107.25,351.32 L107.42,351.33 L107.59,351.33 L107.76,351.34 L107.93,351.34 L108.10,351.35 L108.27,351.36 L108.45,351.36 L108.62,351.37 L108.79,351.37 L108.96,351.38 L109.13,351.38 L109.30,351.39 L109.47,351.40 L109.64,351.40 L109.81,351.41 L109.98,351.41 L110.15,351.42 L110.32,351.42 L110.50,351.43 L110.67,351.44 L110.84,351.44 L111.01,351.45 L111.18,351.45 L111.35,351.46 L111.52,351.47 L111.69,351.47 L111.86,351.48 L112.03,351.48 L112.20,351.49 L112.37,351.50 L112.54,351.50 L112.72,351.51 L112.89,351.51 L113.06,351.52 L113.23,351.52 L113.40,351.53 L113.57,351.54 L113.74,351.54 L113.91,351.55 L114.08,351.56 L114.25,351.56 L114.42,351.57 L114.59,351.57 L114.77,351.58 L114.94,351.59 L115.11,351.59 L115.28,351.60 L115.45,351.60 L115.62,351.61 L115.79,351.62 L115.96,351.62 L116.13,351.63 L116.30,351.64 L116.47,351.64 L116.64,351.65 L116.81,351.65 L116.99,351.66 L117.16,351.67 L117.33,351.67 L117.50,351.68 L117.67,351.69 L117.84,351.69 L118.01,351.70 L118.18,351.70 L118.35,351.71 L118.52,351.72 L118.69,351.72 L118.86,351.73 L119.03,351.74 L119.21,351.74 L119.38,351.75 L119.55,351.76 L119.72,351.76 L119.89,351.77 L120.06,351.78 L120.23,351.78 L120.40,351.79 L120.57,351.79 L120.74,351.80 L120.91,351.81 L121.08,351.81 L121.26,351.82 L121.43,351.83 L121.60,351.83 L121.77,351.84 L121.94,351.85 L122.11,351.85 L122.28,351.86 L122.45,351.87 L122.62,351.87 L122.79,351.88 L122.96,351.89 L123.13,351.89 L123.30,351.90 L123.48,351.91 L123.65,351.91 L123.82,351.92 L123.99,351.93 L124.16,351.93 L124.33,351.94 L124.50,351.95 L124.67,351.96 L124.84,351.96 L125.01,351.97 L125.18,351.98 L125.35,351.98 L125.53,351.99 L125.70,352.00 L125.87,352.00 L126.04,352.01 L126.21,352.02 L126.38,352.02 L126.55,352.03 L126.72,352.04 L126.89,352.04 L127.06,352.05 L127.23,352.06 L127.40,352.07 L127.57,352.07 L127.75,352.08 L127.92,352.09 L128.09,352.09 L128.26,352.10 L128.43,352.11 L128.60,352.11 L128.77,352.12 L128.94,352.13 L129.11,352.14 L129.28,352.14 L129.45,352.15 L129.62,352.16 L129.80,352.16 L129.97,352.17 L130.14,352.18 L130.31,352.19 L130.48,352.19 L130.65,352.20 L130.82,352.21 L130.99,352.22 L131.16,352.22 L131.33,352.23 L131.50,352.24 L131.67,352.24 L131.84,352.25 L132.02,352.26 L132.19,352.27 L132.36,352.27 L132.53,352.28 L132.70,352.29 L132.87,352.30 L133.04,352.30 L133.21,352.31 L133.38,352.32 L133.55,352.32 L133.72,352.33 L133.89,352.34 L134.06,352.35 L134.24,352.35 L134.41,352.36 L134.58,352.37 L134.75,352.38 L134.92,352.38 L135.09,352.39 L135.26,352.40 L135.43,352.41 L135.60,352.41 L135.77,352.42 L135.94,352.43 L136.11,352.44 L136.29,352.45 L136.46,352.45 L136.63,352.46 L136.80,352.47 L136.97,352.48 L137.14,352.48 L137.31,352.49 L137.48,352.50 L137.65,352.51 L137.82,352.51 L137.99,352.52 L138.16,352.53 L138.33,352.54 L138.51,352.54 L138.68,352.55 L138.85,352.56 L139.02,352.57 L139.19,352.58 L139.36,352.58 L139.53,352.59 L139.70,352.60 L139.87,352.61 L140.04,352.62 L140.21,352.62 L140.38,352.63 L140.56,352.64 L140.73,352.65 L140.90,352.65 L141.07,352.66 L141.24,352.67 L141.41,352.68 L141.58,352.69 L141.75,352.69 L141.92,352.70 L142.09,352.71 L142.26,352.72 L142.43,352.73 L142.60,352.73 L142.78,352.74 L142.95,352.75 L143.12,352.76 L143.29,352.77 L143.46,352.77 L143.63,352.78 L143.80,352.79 L143.97,352.80 L144.14,352.81 L144.31,352.82 L144.48,352.82 L144.65,352.83 L144.83,352.84 L145.00,352.85 L145.17,352.86 L145.34,352.86 L145.51,352.87 L145.68,352.88 L145.85,352.89 L146.02,352.90 L146.19,352.91 L146.36,352.91 L146.53,352.92 L146.70,352.93 L146.87,352.94 L147.05,352.95 L147.22,352.96 L147.39,352.96 L147.56,352.97 L147.73,352.98 L147.90,352.99 L148.07,353.00 L148.24,353.01 L148.41,353.01 L148.58,353.02 L148.75,353.03 L148.92,353.04 L149.10,353.05 L149.27,353.06 L149.44,353.07 L149.61,353.07 L149.78,353.08 L149.95,353.09 L150.12,353.10 L150.29,353.11 L150.46,353.12 L150.63,353.13 L150.80,353.13" stroke="#0000ff" stroke-width="1.3" stroke-dasharray="1.3 4.4"/>
<path d="M31.42,350.45 L31.59,350.57 L31.76,350.71 L31.93,350.85 L32.10,351.01 L32.27,351.17 L32.44,351.36 L32.61,351.55 L32.78,351.76 L32.95,351.99 L33.12,352.23 L33.30,352.48 L33.47,352.76 L33.64,353.04 L33.81,353.35 L33.98,353.67 L34.15,354.01 L34.32,354.37 L34.49,354.75 L34.66,355.14 L34.83,355.55 L35.00,355.98 L35.17,356.43 L35.34,356.89 L35.52,357.38 L35.69,357.88 L35.86,358.39 L36.03,358.92 L36.20,359.47 L36.37,360.04 L36.54,360.62 L36.71,361.21 L36.88,361.82 L37.05,362.44 L37.22,363.07 L37.39,363.72 L37.57,364.37 L37.74,365.03 L37.91,365.71 L38.08,366.38 L38.25,367.07 L38.42,367.76 L38.59,368.45 L38.76,369.15 L38.93,369.85 L39.10,370.54 L39.27,371.24 L39.44,371.93 L39.61,372.62 L39.79,373.30 L39.96,373.98 L40.13,374.65 L40.30,375.30 L40.47,375.95 L40.64,376.58 L40.81,377.20 L40.98,377.80 L41.15,378.39 L41.32,378.95 L41.49,379.50 L41.66,380.03 L41.84,380.53 L42.01,381.01 L42.18,381.47 L42.35,381.90 L42.52,382.30 L42.69,382.68 L42.86,383.02 L43.03,383.34 L43.20,383.63 L43.37,383.88 L43.54,384.11 L43.71,384.30 L43.88,384.46 L44.06,384.59 L44.23,384.68 L44.40,384.74 L44.57,384.76 L44.74,384.76 L44.91,384.71 L45.08,384.64 L45.25,384.53 L45.42,384.39 L45.59,384.21 L45.76,384.00 L45.93,383.76 L46.10,383.49 L46.28,383.19 L46.45,382.86 L46.62,382.50 L46.79,382.11 L46.96,381.69 L47.13,381.25 L47.30,380.78 L47.47,380.29 L47.64,379.77 L47.81,379.24 L47.98,378.68 L48.15,378.11 L48.33,377.51 L48.50,376.90 L48.67,376.28 L48.84,375.64 L49.01,374.99 L49.18,374.32 L49.35,373.65 L49.52,372.97 L49.69,372.29 L49.86,371.60 L50.03,370.90 L50.20,370.21 L50.37,369.51 L50.55,368.81 L50.72,368.12 L50.89,367.42 L51.06,366.74 L51.23,366.05 L51.40,365.38 L51.57,364.71 L51.74,364.05 L51.91,363.40 L52.08,362.76 L52.25,362.14 L52.42,361.52 L52.60,360.92 L52.77,360.33 L52.94,359.76 L53.11,359.21 L53.28,358.66 L53.45,358.14 L53.62,357.63 L53.79,357.14 L53.96,356.67 L54.13,356.21 L54.30,355.77 L54.47,355.35 L54.64,354.95 L54.82,354.56 L54.99,354.20 L55.16,353.85 L55.33,353.52 L55.50,353.20 L55.67,352.90 L55.84,352.62 L56.01,352.36 L56.18,352.11 L56.35,351.88 L56.52,351.66 L56.69,351.45 L56.87,351.27 L57.04,351.09 L57.21,350.93 L57.38,350.78 L57.55,350.64 L57.72,350.51 L57.89,350.40 L58.06,350.29 L58.23,350.20 L58.40,350.11 L58.57,350.03 L58.74,349.96 L58.91,349.90 L59.09,349.85 L59.26,349.80 L59.43,349.76 L59.60,349.72 L59.77,349.68 L59.94,349.66 L60.11,349.63 L60.28,349.61 L60.45,349.59 L60.62,349.58 L60.79,349.57 L60.96,349.55 L61.14,349.55 L61.31,349.54 L61.48,349.53 L61.65,349.53 L61.82,349.53 L61.99,349.52 L62.16,349.52 L62.33,349.52 L62.50,349.52 L62.67,349.52 L62.84,349.52 L63.01,349.52 L63.18,349.52 L63.36,349.52 L63.53,349.52 L63.70,349.52 L63.87,349.52 L64.04,349.52 L64.21,349.52 L64.38,349.52 L64.55,349.52 L64.72,349.52 L64.89,349.52 L65.06,349.52 L65.23,349.52 L65.40,349.52 L65.58,349.52 L65.75,349.52 L65.92,349.52 L66.09,349.52 L66.26,349.52 L66.43,349.52 L66.60,349.52 L66.77,349.52 L66.94,349.52 L67.11,349.52 L67.28,349.53 L67.45,349.53 L67.63,349.54 L67.80,349.54 L67.97,349.55 L68.14,349.56 L68.31,349.57 L68.48,349.58 L68.65,349.60 L68.82,349.61 L68.99,349.64 L69.16,349.66 L69.33,349.69 L69.50,349.72 L69.67,349.76 L69.85,349.81 L70.02,349.86 L70.19,349.91 L70.36,349.98 L70.53,350.05 L70.70,350.13 L70.87,350.22 L71.04,350.31 L71.21,350.42 L71.38,350.54 L71.55,350.67 L71.72,350.80 L71.90,350.96 L72.07,351.12 L72.24,351.30 L72.41,351.49 L72.58,351.69 L72.75,351.91 L72.92,352.15 L73.09,352.40 L73.26,352.67 L73.43,352.95 L73.60,353.25 L73.77,353.57 L73.94,353.90 L74.12,354.25 L74.29,354.62 L74.46,355.01 L74.63,355.41 L74.80,355.83 L74.97,356.27 L75.14,356.73 L75.31,357.21 L75.48,357.70 L75.65,358.21 L75.82,358.73 L75.99,359.27 L76.17,359.83 L76.34,360.40 L76.51,360.99 L76.68,361.59 L76.85,362.20 L77.02,362.83 L77.19,363.47 L77.36,364.11 L77.53,364.77 L77.70,365.44 L77.87,366.11 L78.04,366.79 L78.21,367.47 L78.39,368.16 L78.56,368.85 L78.73,369.55 L78.90,370.24 L79.07,370.93 L79.24,371.62 L79.41,372.31 L79.58,372.99 L79.75,373.66 L79.92,374.32 L80.09,374.98 L80.26,375.62 L80.43,376.25 L80.61,376.87 L80.78,377.47 L80.95,378.06 L81.12,378.63 L81.29,379.18 L81.46,379.71 L81.63,380.21 L81.80,380.69 L81.97,381.15 L82.14,381.59 L82.31,381.99 L82.48,382.37 L82.66,382.73 L82.83,383.05 L83.00,383.34 L83.17,383.60 L83.34,383.83 L83.51,384.03 L83.68,384.20 L83.85,384.33 L84.02,384.43 L84.19,384.50 L84.36,384.53 L84.53,384.53 L84.70,384.50 L84.88,384.43 L85.05,384.33 L85.22,384.20 L85.39,384.03 L85.56,383.84 L85.73,383.60 L85.90,383.34 L86.07,383.05 L86.24,382.73 L86.41,382.38 L86.58,382.00 L86.75,381.59 L86.93,381.16 L87.10,380.70 L87.27,380.21 L87.44,379.71 L87.61,379.18 L87.78,378.63 L87.95,378.06 L88.12,377.48 L88.29,376.88 L88.46,376.26 L88.63,375.63 L88.80,374.98 L88.97,374.33 L89.15,373.66 L89.32,372.99 L89.49,372.31 L89.66,371.63 L89.83,370.94 L90.00,370.24 L90.17,369.55 L90.34,368.86 L90.51,368.17 L90.68,367.48 L90.85,366.79 L91.02,366.11 L91.20,365.44 L91.37,364.78 L91.54,364.12 L91.71,363.47 L91.88,362.83 L92.05,362.21 L92.22,361.59 L92.39,360.99 L92.56,360.41 L92.73,359.83 L92.90,359.28 L93.07,358.74 L93.24,358.21 L93.42,357.70 L93.59,357.21 L93.76,356.73 L93.93,356.28 L94.10,355.84 L94.27,355.41 L94.44,355.01 L94.61,354.62 L94.78,354.25 L94.95,353.90 L95.12,353.57 L95.29,353.25 L95.47,352.95 L95.64,352.67 L95.81,352.40 L95.98,352.15 L96.15,351.92 L96.32,351.70 L96.49,351.49 L96.66,351.30 L96.83,351.12 L97.00,350.96 L97.17,350.81 L97.34,350.67 L97.51,350.54 L97.69,350.42 L97.86,350.31 L98.03,350.22 L98.20,350.13 L98.37,350.05 L98.54,349.98 L98.71,349.91 L98.88,349.86 L99.05,349.81 L99.22,349.76 L99.39,349.72 L99.56,349.69 L99.73,349.66 L99.91,349.64 L100.08,349.61 L100.25,349.60 L100.42,349.58 L100.59,349.57 L100.76,349.56 L100.93,349.55 L101.10,349.54 L101.27,349.54 L101.44,349.53 L101.61,349.53 L101.78,349.53 L101.96,349.52 L102.13,349.52 L102.30,349.52 L102.47,349.52 L102.64,349.52 L102.81,349.52 L102.98,349.52 L103.15,349.52 L103.32,349.52 L103.49,349.52 L103.66,349.52 L103.83,349.52 L104.00,349.52 L104.18,349.52 L104.35,349.52 L104.52,349.52 L104.69,349.52 L104.86,349.52 L105.03,349.52 L105.20,349.52 L105.37,349.52 L105.54,349.52 L105.71,349.52 L105.88,349.52 L106.05,349.52 L106.23,349.52 L106.40,349.53 L106.57,349.53 L106.74,349.53 L106.91,349.54 L107.08,349.54 L107.25,349.55 L107.42,349.56 L107.59,349.57 L107.76,349.58 L107.93,349.60 L108.10,349.62 L108.27,349.64 L108.45,349.67 L108.62,349.70 L108.79,349.74 L108.96,349.78 L109.13,349.83 L109.30,349.88 L109.47,349.94 L109.64,350.01 L109.81,350.09 L109.98,350.18 L110.15,350.27 L110.32,350.38 L110.50,350.49 L110.67,350.62 L110.84,350.76 L111.01,350.91 L111.18,351.08 L111.35,351.26 L111.52,351.45 L111.69,351.66 L111.86,351.89 L112.03,352.13 L112.20,352.39 L112.37,352.67 L112.54,352.96 L112.72,353.27 L112.89,353.60 L113.06,353.95 L113.23,354.32 L113.40,354.71 L113.57,355.12 L113.74,355.55 L113.91,356.00 L114.08,356.46 L114.25,356.95 L114.42,357.46 L114.59,357.99 L114.77,358.53 L114.94,359.10 L115.11,359.68 L115.28,360.28 L115.45,360.90 L115.62,361.54 L115.79,362.20 L115.96,362.86 L116.13,363.55 L116.30,364.25 L116.47,364.96 L116.64,365.68 L116.81,366.42 L116.99,367.16 L117.16,367.91 L117.33,368.68 L117.50,369.44 L117.67,370.21 L117.84,370.99 L118.01,371.77 L118.18,372.54 L118.35,373.32 L118.52,374.10 L118.69,374.87 L118.86,375.63 L119.03,376.39 L119.21,377.14 L119.38,377.88 L119.55,378.61 L119.72,379.32 L119.89,380.02 L120.06,380.70 L120.23,381.36 L120.40,382.01 L120.57,382.63 L120.74,383.23 L120.91,383.80 L121.08,384.35 L121.26,384.88 L121.43,385.37 L121.60,385.84 L121.77,386.28 L121.94,386.68 L122.11,387.05 L122.28,387.39 L122.45,387.70 L122.62,387.97 L122.79,388.20 L122.96,388.40 L123.13,388.56 L123.30,388.68 L123.48,388.77 L123.65,388.82 L123.82,388.83 L123.99,388.80 L124.16,388.74 L124.33,388.64 L124.50,388.50 L124.67,388.33 L124.84,388.11 L125.01,387.87 L125.18,387.58 L125.35,387.26 L125.53,386.91 L125.70,386.53 L125.87,386.11 L126.04,385.66 L126.21,385.18 L126.38,384.68 L126.55,384.14 L126.72,383.58 L126.89,383.00 L127.06,382.39 L127.23,381.76 L127.40,381.11 L127.57,380.44 L127.75,379.75 L127.92,379.04 L128.09,378.32 L128.26,377.59 L128.43,376.85 L128.60,376.10 L128.77,375.34 L128.94,374.57 L129.11,373.80 L129.28,373.02 L129.45,372.24 L129.62,371.46 L129.80,370.69 L129.97,369.91 L130.14,369.14 L130.31,368.38 L130.48,367.62 L130.65,366.87 L130.82,366.13 L130.99,365.40 L131.16,364.68 L131.33,363.97 L131.50,363.28 L131.67,362.60 L131.84,361.94 L132.02,361.29 L132.19,360.66 L132.36,360.05 L132.53,359.45 L132.70,358.88 L132.87,358.32 L133.04,357.78 L133.21,357.26 L133.38,356.76 L133.55,356.28 L133.72,355.82 L133.89,355.38 L134.06,354.96 L134.24,354.56 L134.41,354.18 L134.58,353.82 L134.75,353.47 L134.92,353.15 L135.09,352.84 L135.26,352.56 L135.43,352.29 L135.60,352.04 L135.77,351.80 L135.94,351.58 L136.11,351.38 L136.29,351.19 L136.46,351.01 L136.63,350.85 L136.80,350.70 L136.97,350.57 L137.14,350.45 L137.31,350.33 L137.48,350.23 L137.65,350.14 L137.82,350.06 L137.99,349.98 L138.16,349.92 L138.33,349.86 L138.51,349.81 L138.68,349.76 L138.85,349.72 L139.02,349.69 L139.19,349.66 L139.36,349.63 L139.53,349.61 L139.70,349.59 L139.87,349.58 L140.04,349.57 L140.21,349.55 L140.38,349.55 L140.56,349.54 L140.73,349.53 L140.90,349.53 L141.07,349.53 L141.24,349.52 L141.41,349.52 L141.58,349.52 L141.75,349.52 L141.92,349.52 L142.09,349.52 L142.26,349.52 L142.43,349.52 L142.60,349.52 L142.78,349.52 L142.95,349.52 L143.12,349.52 L143.29,349.52 L143.46,349.52 L143.63,349.52 L143.80,349.52 L143.97,349.52 L144.14,349.52 L144.31,349.52 L144.48,349.52 L144.65,349.52 L144.83,349.52 L145.00,349.52 L145.17,349.52 L145.34,349.52 L145.51,349.52 L145.68,349.52 L145.85,349.52 L146.02,349.52 L146.19,349.52 L146.36,349.52 L146.53,349.52 L146.70,349.52 L146.87,349.52 L147.05,349.52 L147.22,349.52 L147.39,349.52 L147.56,349.52 L147.73,349.52 L147.90,349.52 L148.07,349.52 L148.24,349.52 L148.41,349.52 L148.58,349.52 L148.75,349.52 L148.92,349.52 L149.10,349.52 L149.27,349.52 L149.44,349.52 L149.61,349.52 L149.78,349.52 L149.95,349.52 L150.12,349.52 L150.29,349.52 L150.46,349.52 L150.63,349.52 L150.80,349.52" stroke="#800000" stroke-width="1.3" stroke-dasharray="5.5 2.8 1.3 2.4"/>
</g>
<path d="M31.60,345.00 H150.50" fill="none" stroke="#707070" stroke-width="0.9"/>
<path d="M150.50,344.60 V417.30" fill="none" stroke="#444" stroke-width="0.8"/>
<path d="M31.60,344.70 V417.30 H150.80" fill="none" stroke="#000" stroke-width="0.9"/>
<path d="M31.60,345.00 h-2.6 M31.60,354.04 h-2.6 M31.60,363.07 h-2.6 M31.60,372.11 h-2.6 M31.60,381.15 h-2.6 M31.60,390.19 h-2.6 M31.60,399.23 h-2.6 M31.60,408.26 h-2.6 M31.60,417.30 h-2.6 M31.60,349.52 h-1.4 M31.60,358.56 h-1.4 M31.60,367.59 h-1.4 M31.60,376.63 h-1.4 M31.60,385.67 h-1.4 M31.60,394.71 h-1.4 M31.60,403.74 h-1.4 M31.60,412.78 h-1.4 M37.70,417.30 v2.4 M50.27,417.30 v2.4 M62.83,417.30 v2.4 M75.40,417.30 v2.4 M87.97,417.30 v2.4 M100.53,417.30 v2.4 M113.10,417.30 v2.4 M125.67,417.30 v2.4 M138.24,417.30 v2.4 M150.80,417.30 v2.4 M43.98,417.30 v1.3 M56.55,417.30 v1.3 M69.12,417.30 v1.3 M81.68,417.30 v1.3 M94.25,417.30 v1.3 M106.82,417.30 v1.3 M119.39,417.30 v1.3 M131.95,417.30 v1.3 M144.52,417.30 v1.3 " stroke="#000" stroke-width="0.8" fill="none"/>
<path d="M37.70,345.00 v1.1 M43.98,345.00 v1.1 M50.27,345.00 v1.1 M56.55,345.00 v1.1 M62.83,345.00 v1.1 M69.12,345.00 v1.1 M75.40,345.00 v1.1 M81.68,345.00 v1.1 M87.97,345.00 v1.1 M94.25,345.00 v1.1 M100.53,345.00 v1.1 M106.82,345.00 v1.1 M113.10,345.00 v1.1 M119.39,345.00 v1.1 M125.67,345.00 v1.1 M131.95,345.00 v1.1 M138.24,345.00 v1.1 M144.52,345.00 v1.1 M150.80,345.00 v1.1 " stroke="#808080" stroke-width="0.6" fill="none"/>
<text x="28.2" y="346.85" text-anchor="end" class="tk">2</text>
<text x="28.2" y="355.89" text-anchor="end" class="tk">0</text>
<text x="28.2" y="364.93" text-anchor="end" class="tk">-2</text>
<text x="28.2" y="373.96" text-anchor="end" class="tk">-4</text>
<text x="28.2" y="383.00" text-anchor="end" class="tk">-6</text>
<text x="28.2" y="392.04" text-anchor="end" class="tk">-8</text>
<text x="28.2" y="401.08" text-anchor="end" class="tk">-10</text>
<text x="28.2" y="410.11" text-anchor="end" class="tk">-12</text>
<text x="28.2" y="419.15" text-anchor="end" class="tk">-14</text>
<text x="37.70" y="424.70" text-anchor="middle" class="tk">1</text>
<text x="50.27" y="424.70" text-anchor="middle" class="tk">2</text>
<text x="62.83" y="424.70" text-anchor="middle" class="tk">3</text>
<text x="75.40" y="424.70" text-anchor="middle" class="tk">4</text>
<text x="87.97" y="424.70" text-anchor="middle" class="tk">5</text>
<text x="100.53" y="424.70" text-anchor="middle" class="tk">6</text>
<text x="113.10" y="424.70" text-anchor="middle" class="tk">7</text>
<text x="125.67" y="424.70" text-anchor="middle" class="tk">8</text>
<text x="138.24" y="424.70" text-anchor="middle" class="tk">9</text>
<text x="150.80" y="424.70" text-anchor="middle" class="tk">10</text>
<rect x="151.80" y="344.05" width="39.00" height="41.05" fill="#fff" stroke="#6a6a6a" stroke-width="0.7"/>
<path d="M154.9,352.10 H168.6" stroke="#000" stroke-width="1.25" fill="none"/>
<text class="lg" fill="#000" stroke="#000"><tspan x="169.10" y="354.15">V</tspan><tspan x="173.40" y="356.15" class="sb">0</tspan><tspan x="175.20" y="354.15">/</tspan><tspan x="176.75" y="354.15">E</tspan><tspan x="180.25" y="356.15" class="sb">F</tspan><tspan x="182.10" y="354.15">=</tspan><tspan x="185.85" y="354.15">-</tspan></text>
<text class="lg" fill="#000" stroke="#000" transform="translate(187.55,354.15) scale(0.7,1)">1</text>
<path d="M154.9,361.05 H168.6" stroke="#ff0000" stroke-width="1.25" fill="none" stroke-dasharray="4.7 5.5"/>
<text class="lg" fill="#ff0000" stroke="#ff0000"><tspan x="169.10" y="363.10">V</tspan><tspan x="173.40" y="365.10" class="sb">0</tspan><tspan x="175.20" y="363.10">/</tspan><tspan x="176.75" y="363.10">E</tspan><tspan x="180.25" y="365.10" class="sb">F</tspan><tspan x="182.10" y="363.10">=</tspan><tspan x="185.50" y="363.10">0</tspan></text>
<path d="M154.9,369.80 H168.6" stroke="#0000ff" stroke-width="1.25" fill="none" stroke-dasharray="1.2 4.8"/>
<text class="lg" fill="#0000ff" stroke="#0000ff"><tspan x="169.10" y="371.85">V</tspan><tspan x="173.40" y="373.85" class="sb">0</tspan><tspan x="175.20" y="371.85">/</tspan><tspan x="176.75" y="371.85">E</tspan><tspan x="180.25" y="373.85" class="sb">F</tspan><tspan x="182.10" y="371.85">=</tspan><tspan x="185.50" y="371.85">1</tspan></text>
<path d="M154.9,378.50 H168.6" stroke="#800000" stroke-width="1.25" fill="none" stroke-dasharray="5.2 2.9 1.2 2.3"/>
<text class="lg" fill="#800000" stroke="#800000"><tspan x="169.10" y="380.55">V</tspan><tspan x="173.40" y="382.55" class="sb">0</tspan><tspan x="175.20" y="380.55">/</tspan><tspan x="176.75" y="380.55">E</tspan><tspan x="180.25" y="382.55" class="sb">F</tspan><tspan x="182.10" y="380.55">=</tspan><tspan x="185.50" y="380.55">2</tspan></text>
<text x="12.9" y="351.4" class="pl">(a)</text>
<text transform="translate(17.1,382.5) rotate(-90)" text-anchor="middle" class="mr">MR</text>
<text class="ax"><tspan x="78.56" y="432.00">E</tspan><tspan x="82.85" y="434.00" class="sb2">F</tspan><tspan x="84.60" y="432.00">L</tspan><tspan x="88.40" y="432.00">/</tspan><tspan x="90.70" y="432.00" class="rg">ħ</tspan><tspan x="94.35" y="432.00" class="rg">υ</tspan><tspan x="97.90" y="434.00" class="sb2">F</tspan></text>
<g clip-path="url(#cb)" fill="none" stroke-linejoin="round">
<path d="M31.42,482.89 L31.59,484.31 L31.76,485.69 L31.93,487.02 L32.10,488.31 L32.27,489.55 L32.44,490.74 L32.61,491.86 L32.78,492.93 L32.95,493.93 L33.12,494.86 L33.30,495.72 L33.47,496.51 L33.64,497.23 L33.81,497.86 L33.98,498.42 L34.15,498.89 L34.32,499.28 L34.49,499.58 L34.66,499.80 L34.83,499.94 L35.00,499.98 L35.17,499.95 L35.34,499.85 L35.52,499.68 L35.69,499.44 L35.86,499.13 L36.03,498.75 L36.20,498.30 L36.37,497.79 L36.54,497.21 L36.71,496.57 L36.88,495.87 L37.05,495.11 L37.22,494.29 L37.39,493.41 L37.57,492.48 L37.74,491.50 L37.91,490.47 L38.08,489.39 L38.25,488.27 L38.42,487.10 L38.59,485.90 L38.76,484.66 L38.93,483.39 L39.10,482.09 L39.27,480.76 L39.44,479.41 L39.61,478.04 L39.79,476.65 L39.96,475.25 L40.13,473.84 L40.30,472.42 L40.47,471.00 L40.64,469.58 L40.81,468.17 L40.98,466.76 L41.15,465.36 L41.32,463.98 L41.49,462.62 L41.66,461.27 L41.84,459.95 L42.01,458.66 L42.18,457.40 L42.35,456.17 L42.52,454.98 L42.69,453.83 L42.86,452.72 L43.03,451.66 L43.20,450.65 L43.37,449.68 L43.54,448.77 L43.71,447.91 L43.88,447.11 L44.06,446.37 L44.23,445.69 L44.40,445.07 L44.57,444.52 L44.74,444.03 L44.91,443.60 L45.08,443.25 L45.25,442.96 L45.42,442.74 L45.59,442.60 L45.76,442.52 L45.93,442.51 L46.10,442.60 L46.28,442.78 L46.45,443.06 L46.62,443.43 L46.79,443.90 L46.96,444.45 L47.13,445.10 L47.30,445.84 L47.47,446.66 L47.64,447.57 L47.81,448.55 L47.98,449.62 L48.15,450.75 L48.33,451.96 L48.50,453.23 L48.67,454.56 L48.84,455.94 L49.01,457.38 L49.18,458.87 L49.35,460.40 L49.52,461.97 L49.69,463.56 L49.86,465.19 L50.03,466.84 L50.20,468.50 L50.37,470.17 L50.55,471.85 L50.72,473.52 L50.89,475.19 L51.06,476.85 L51.23,478.49 L51.40,480.11 L51.57,481.70 L51.74,483.25 L51.91,484.77 L52.08,486.24 L52.25,487.66 L52.42,489.03 L52.60,490.35 L52.77,491.59 L52.94,492.78 L53.11,493.89 L53.28,494.93 L53.45,495.89 L53.62,496.77 L53.79,497.56 L53.96,498.27 L54.13,498.89 L54.30,499.42 L54.47,499.86 L54.64,500.20 L54.82,500.45 L54.99,500.60 L55.16,500.65 L55.33,500.63 L55.50,500.53 L55.67,500.38 L55.84,500.16 L56.01,499.88 L56.18,499.53 L56.35,499.13 L56.52,498.66 L56.69,498.13 L56.87,497.55 L57.04,496.91 L57.21,496.21 L57.38,495.46 L57.55,494.65 L57.72,493.80 L57.89,492.90 L58.06,491.95 L58.23,490.95 L58.40,489.92 L58.57,488.84 L58.74,487.73 L58.91,486.58 L59.09,485.40 L59.26,484.18 L59.43,482.95 L59.60,481.68 L59.77,480.40 L59.94,479.10 L60.11,477.78 L60.28,476.45 L60.45,475.11 L60.62,473.76 L60.79,472.41 L60.96,471.06 L61.14,469.71 L61.31,468.37 L61.48,467.04 L61.65,465.72 L61.82,464.41 L61.99,463.12 L62.16,461.85 L62.33,460.60 L62.50,459.38 L62.67,458.19 L62.84,457.03 L63.01,455.90 L63.18,454.81 L63.36,453.76 L63.53,452.75 L63.70,451.78 L63.87,450.87 L64.04,449.99 L64.21,449.17 L64.38,448.40 L64.55,447.69 L64.72,447.02 L64.89,446.42 L65.06,445.87 L65.23,445.38 L65.40,444.96 L65.58,444.59 L65.75,444.29 L65.92,444.05 L66.09,443.87 L66.26,443.75 L66.43,443.70 L66.60,443.73 L66.77,443.86 L66.94,444.11 L67.11,444.47 L67.28,444.93 L67.45,445.50 L67.63,446.17 L67.80,446.95 L67.97,447.83 L68.14,448.80 L68.31,449.86 L68.48,451.01 L68.65,452.24 L68.82,453.56 L68.99,454.94 L69.16,456.40 L69.33,457.91 L69.50,459.49 L69.67,461.11 L69.85,462.78 L70.02,464.49 L70.19,466.23 L70.36,467.99 L70.53,469.78 L70.70,471.57 L70.87,473.37 L71.04,475.17 L71.21,476.95 L71.38,478.72 L71.55,480.47 L71.72,482.19 L71.90,483.87 L72.07,485.52 L72.24,487.11 L72.41,488.64 L72.58,490.12 L72.75,491.53 L72.92,492.87 L73.09,494.13 L73.26,495.31 L73.43,496.40 L73.60,497.40 L73.77,498.31 L73.94,499.12 L74.12,499.83 L74.29,500.44 L74.46,500.94 L74.63,501.33 L74.80,501.62 L74.97,501.79 L75.14,501.85 L75.31,501.82 L75.48,501.74 L75.65,501.59 L75.82,501.38 L75.99,501.12 L76.17,500.79 L76.34,500.41 L76.51,499.97 L76.68,499.47 L76.85,498.92 L77.02,498.32 L77.19,497.66 L77.36,496.95 L77.53,496.19 L77.70,495.39 L77.87,494.53 L78.04,493.64 L78.21,492.70 L78.39,491.72 L78.56,490.70 L78.73,489.64 L78.90,488.55 L79.07,487.43 L79.24,486.28 L79.41,485.11 L79.58,483.91 L79.75,482.68 L79.92,481.44 L80.09,480.18 L80.26,478.91 L80.43,477.63 L80.61,476.34 L80.78,475.05 L80.95,473.75 L81.12,472.45 L81.29,471.16 L81.46,469.87 L81.63,468.59 L81.80,467.32 L81.97,466.06 L82.14,464.83 L82.31,463.61 L82.48,462.41 L82.66,461.24 L82.83,460.10 L83.00,458.98 L83.17,457.90 L83.34,456.85 L83.51,455.84 L83.68,454.87 L83.85,453.93 L84.02,453.05 L84.19,452.20 L84.36,451.40 L84.53,450.66 L84.70,449.96 L84.88,449.31 L85.05,448.72 L85.22,448.18 L85.39,447.69 L85.56,447.26 L85.73,446.89 L85.90,446.58 L86.07,446.32 L86.24,446.13 L86.41,445.99 L86.58,445.92 L86.75,445.91 L86.93,445.98 L87.10,446.15 L87.27,446.42 L87.44,446.78 L87.61,447.24 L87.78,447.79 L87.95,448.43 L88.12,449.16 L88.29,449.98 L88.46,450.88 L88.63,451.86 L88.80,452.92 L88.97,454.04 L89.15,455.24 L89.32,456.50 L89.49,457.82 L89.66,459.20 L89.83,460.62 L90.00,462.09 L90.17,463.60 L90.34,465.14 L90.51,466.71 L90.68,468.30 L90.85,469.91 L91.02,471.53 L91.20,473.16 L91.37,474.78 L91.54,476.40 L91.71,478.01 L91.88,479.59 L92.05,481.16 L92.22,482.69 L92.39,484.19 L92.56,485.65 L92.73,487.06 L92.90,488.42 L93.07,489.72 L93.24,490.97 L93.42,492.15 L93.59,493.26 L93.76,494.29 L93.93,495.25 L94.10,496.13 L94.27,496.92 L94.44,497.63 L94.61,498.25 L94.78,498.78 L94.95,499.21 L95.12,499.55 L95.29,499.79 L95.47,499.94 L95.64,499.98 L95.81,499.95 L95.98,499.86 L96.15,499.71 L96.32,499.50 L96.49,499.23 L96.66,498.90 L96.83,498.51 L97.00,498.07 L97.17,497.57 L97.34,497.02 L97.51,496.41 L97.69,495.75 L97.86,495.04 L98.03,494.28 L98.20,493.47 L98.37,492.62 L98.54,491.72 L98.71,490.79 L98.88,489.81 L99.05,488.80 L99.22,487.75 L99.39,486.67 L99.56,485.56 L99.73,484.42 L99.91,483.26 L100.08,482.08 L100.25,480.88 L100.42,479.66 L100.59,478.43 L100.76,477.18 L100.93,475.93 L101.10,474.68 L101.27,473.42 L101.44,472.16 L101.61,470.91 L101.78,469.66 L101.96,468.42 L102.13,467.20 L102.30,465.99 L102.47,464.79 L102.64,463.62 L102.81,462.47 L102.98,461.35 L103.15,460.26 L103.32,459.20 L103.49,458.17 L103.66,457.17 L103.83,456.22 L104.00,455.30 L104.18,454.43 L104.35,453.60 L104.52,452.82 L104.69,452.09 L104.86,451.40 L105.03,450.77 L105.20,450.19 L105.37,449.67 L105.54,449.20 L105.71,448.78 L105.88,448.43 L106.05,448.13 L106.23,447.89 L106.40,447.71 L106.57,447.59 L106.74,447.54 L106.91,447.54 L107.08,447.62 L107.25,447.79 L107.42,448.04 L107.59,448.36 L107.76,448.77 L107.93,449.26 L108.10,449.82 L108.27,450.45 L108.45,451.16 L108.62,451.94 L108.79,452.78 L108.96,453.69 L109.13,454.66 L109.30,455.69 L109.47,456.78 L109.64,457.91 L109.81,459.09 L109.98,460.32 L110.15,461.59 L110.32,462.89 L110.50,464.22 L110.67,465.58 L110.84,466.96 L111.01,468.36 L111.18,469.77 L111.35,471.18 L111.52,472.61 L111.69,474.03 L111.86,475.44 L112.03,476.84 L112.20,478.23 L112.37,479.60 L112.54,480.94 L112.72,482.26 L112.89,483.54 L113.06,484.78 L113.23,485.98 L113.40,487.14 L113.57,488.24 L113.74,489.29 L113.91,490.29 L114.08,491.22 L114.25,492.09 L114.42,492.89 L114.59,493.63 L114.77,494.29 L114.94,494.89 L115.11,495.40 L115.28,495.84 L115.45,496.20 L115.62,496.48 L115.79,496.67 L115.96,496.79 L116.13,496.82 L116.30,496.79 L116.47,496.71 L116.64,496.57 L116.81,496.38 L116.99,496.14 L117.16,495.85 L117.33,495.50 L117.50,495.11 L117.67,494.67 L117.84,494.17 L118.01,493.63 L118.18,493.05 L118.35,492.42 L118.52,491.75 L118.69,491.03 L118.86,490.28 L119.03,489.48 L119.21,488.65 L119.38,487.79 L119.55,486.90 L119.72,485.97 L119.89,485.01 L120.06,484.03 L120.23,483.03 L120.40,482.00 L120.57,480.96 L120.74,479.90 L120.91,478.82 L121.08,477.73 L121.26,476.63 L121.43,475.53 L121.60,474.42 L121.77,473.31 L121.94,472.20 L122.11,471.10 L122.28,470.00 L122.45,468.91 L122.62,467.83 L122.79,466.76 L122.96,465.71 L123.13,464.68 L123.30,463.66 L123.48,462.68 L123.65,461.71 L123.82,460.78 L123.99,459.87 L124.16,459.00 L124.33,458.16 L124.50,457.35 L124.67,456.58 L124.84,455.86 L125.01,455.17 L125.18,454.52 L125.35,453.92 L125.53,453.37 L125.70,452.86 L125.87,452.40 L126.04,451.99 L126.21,451.63 L126.38,451.32 L126.55,451.06 L126.72,450.85 L126.89,450.70 L127.06,450.60 L127.23,450.55 L127.40,450.56 L127.57,450.63 L127.75,450.78 L127.92,450.99 L128.09,451.27 L128.26,451.62 L128.43,452.04 L128.60,452.51 L128.77,453.06 L128.94,453.66 L129.11,454.32 L129.28,455.04 L129.45,455.81 L129.62,456.64 L129.80,457.51 L129.97,458.43 L130.14,459.40 L130.31,460.40 L130.48,461.44 L130.65,462.52 L130.82,463.62 L130.99,464.75 L131.16,465.90 L131.33,467.07 L131.50,468.26 L131.67,469.45 L131.84,470.65 L132.02,471.85 L132.19,473.06 L132.36,474.25 L132.53,475.44 L132.70,476.62 L132.87,477.77 L133.04,478.91 L133.21,480.02 L133.38,481.10 L133.55,482.15 L133.72,483.16 L133.89,484.14 L134.06,485.07 L134.24,485.96 L134.41,486.80 L134.58,487.58 L134.75,488.32 L134.92,488.99 L135.09,489.61 L135.26,490.17 L135.43,490.67 L135.60,491.10 L135.77,491.46 L135.94,491.76 L136.11,492.00 L136.29,492.16 L136.46,492.25 L136.63,492.28 L136.80,492.24 L136.97,492.15 L137.14,492.00 L137.31,491.80 L137.48,491.54 L137.65,491.23 L137.82,490.86 L137.99,490.44 L138.16,489.97 L138.33,489.45 L138.51,488.89 L138.68,488.27 L138.85,487.62 L139.02,486.92 L139.19,486.17 L139.36,485.39 L139.53,484.57 L139.70,483.72 L139.87,482.84 L140.04,481.93 L140.21,480.99 L140.38,480.02 L140.56,479.04 L140.73,478.03 L140.90,477.01 L141.07,475.98 L141.24,474.94 L141.41,473.89 L141.58,472.84 L141.75,471.79 L141.92,470.73 L142.09,469.69 L142.26,468.65 L142.43,467.62 L142.60,466.61 L142.78,465.61 L142.95,464.64 L143.12,463.68 L143.29,462.75 L143.46,461.85 L143.63,460.98 L143.80,460.15 L143.97,459.34 L144.14,458.58 L144.31,457.85 L144.48,457.17 L144.65,456.53 L144.83,455.94 L145.00,455.39 L145.17,454.89 L145.34,454.45 L145.51,454.05 L145.68,453.71 L145.85,453.42 L146.02,453.18 L146.19,453.00 L146.36,452.88 L146.53,452.81 L146.70,452.79 L146.87,452.82 L147.05,452.87 L147.22,452.95 L147.39,453.07 L147.56,453.21 L147.73,453.38 L147.90,453.57 L148.07,453.80 L148.24,454.05 L148.41,454.33 L148.58,454.64 L148.75,454.96 L148.92,455.32 L149.10,455.69 L149.27,456.09 L149.44,456.51 L149.61,456.95 L149.78,457.41 L149.95,457.89 L150.12,458.38 L150.29,458.89 L150.46,459.41 L150.63,459.94 L150.80,460.48" stroke="#000" stroke-width="1.25"/>
<path d="M31.42,448.44 L31.59,448.95 L31.76,449.47 L31.93,450.01 L32.10,450.56 L32.27,451.13 L32.44,451.71 L32.61,452.31 L32.78,452.92 L32.95,453.54 L33.12,454.18 L33.30,454.83 L33.47,455.49 L33.64,456.16 L33.81,456.84 L33.98,457.54 L34.15,458.24 L34.32,458.96 L34.49,459.68 L34.66,460.42 L34.83,461.16 L35.00,461.91 L35.17,462.66 L35.34,463.43 L35.52,464.20 L35.69,464.97 L35.86,465.75 L36.03,466.54 L36.20,467.33 L36.37,468.12 L36.54,468.92 L36.71,469.72 L36.88,470.52 L37.05,471.33 L37.22,472.13 L37.39,472.94 L37.57,473.74 L37.74,474.54 L37.91,475.35 L38.08,476.15 L38.25,476.95 L38.42,477.75 L38.59,478.54 L38.76,479.33 L38.93,480.11 L39.10,480.89 L39.27,481.67 L39.44,482.44 L39.61,483.20 L39.79,483.96 L39.96,484.71 L40.13,485.45 L40.30,486.18 L40.47,486.90 L40.64,487.62 L40.81,488.32 L40.98,489.01 L41.15,489.70 L41.32,490.37 L41.49,491.03 L41.66,491.68 L41.84,492.31 L42.01,492.94 L42.18,493.54 L42.35,494.14 L42.52,494.72 L42.69,495.29 L42.86,495.84 L43.03,496.37 L43.20,496.89 L43.37,497.40 L43.54,497.89 L43.71,498.36 L43.88,498.81 L44.06,499.25 L44.23,499.67 L44.40,500.07 L44.57,500.45 L44.74,500.81 L44.91,501.16 L45.08,501.49 L45.25,501.79 L45.42,502.08 L45.59,502.35 L45.76,502.60 L45.93,502.83 L46.10,503.04 L46.28,503.23 L46.45,503.40 L46.62,503.54 L46.79,503.67 L46.96,503.78 L47.13,503.87 L47.30,503.93 L47.47,503.98 L47.64,504.00 L47.81,504.00 L47.98,503.99 L48.15,503.96 L48.33,503.91 L48.50,503.85 L48.67,503.77 L48.84,503.67 L49.01,503.56 L49.18,503.43 L49.35,503.28 L49.52,503.12 L49.69,502.94 L49.86,502.75 L50.03,502.54 L50.20,502.31 L50.37,502.07 L50.55,501.81 L50.72,501.54 L50.89,501.25 L51.06,500.95 L51.23,500.63 L51.40,500.30 L51.57,499.95 L51.74,499.59 L51.91,499.22 L52.08,498.83 L52.25,498.43 L52.42,498.01 L52.60,497.59 L52.77,497.14 L52.94,496.69 L53.11,496.22 L53.28,495.75 L53.45,495.26 L53.62,494.76 L53.79,494.24 L53.96,493.72 L54.13,493.19 L54.30,492.64 L54.47,492.09 L54.64,491.52 L54.82,490.95 L54.99,490.37 L55.16,489.78 L55.33,489.18 L55.50,488.57 L55.67,487.96 L55.84,487.34 L56.01,486.71 L56.18,486.07 L56.35,485.43 L56.52,484.79 L56.69,484.13 L56.87,483.48 L57.04,482.82 L57.21,482.15 L57.38,481.48 L57.55,480.81 L57.72,480.13 L57.89,479.46 L58.06,478.78 L58.23,478.09 L58.40,477.41 L58.57,476.73 L58.74,476.04 L58.91,475.36 L59.09,474.67 L59.26,473.99 L59.43,473.31 L59.60,472.62 L59.77,471.94 L59.94,471.27 L60.11,470.59 L60.28,469.92 L60.45,469.25 L60.62,468.59 L60.79,467.93 L60.96,467.27 L61.14,466.62 L61.31,465.97 L61.48,465.33 L61.65,464.70 L61.82,464.07 L61.99,463.45 L62.16,462.84 L62.33,462.24 L62.50,461.64 L62.67,461.05 L62.84,460.47 L63.01,459.90 L63.18,459.34 L63.36,458.78 L63.53,458.24 L63.70,457.71 L63.87,457.19 L64.04,456.68 L64.21,456.18 L64.38,455.69 L64.55,455.22 L64.72,454.75 L64.89,454.30 L65.06,453.86 L65.23,453.44 L65.40,453.02 L65.58,452.62 L65.75,452.24 L65.92,451.87 L66.09,451.51 L66.26,451.17 L66.43,450.84 L66.60,450.52 L66.77,450.22 L66.94,449.94 L67.11,449.67 L67.28,449.42 L67.45,449.18 L67.63,448.95 L67.80,448.75 L67.97,448.56 L68.14,448.38 L68.31,448.22 L68.48,448.08 L68.65,447.95 L68.82,447.84 L68.99,447.75 L69.16,447.67 L69.33,447.61 L69.50,447.57 L69.67,447.54 L69.85,447.53 L70.02,447.53 L70.19,447.55 L70.36,447.57 L70.53,447.60 L70.70,447.64 L70.87,447.69 L71.04,447.75 L71.21,447.82 L71.38,447.90 L71.55,447.99 L71.72,448.09 L71.90,448.19 L72.07,448.31 L72.24,448.43 L72.41,448.57 L72.58,448.71 L72.75,448.86 L72.92,449.02 L73.09,449.19 L73.26,449.37 L73.43,449.55 L73.60,449.75 L73.77,449.95 L73.94,450.16 L74.12,450.38 L74.29,450.60 L74.46,450.83 L74.63,451.08 L74.80,451.32 L74.97,451.58 L75.14,451.84 L75.31,452.11 L75.48,452.39 L75.65,452.67 L75.82,452.96 L75.99,453.26 L76.17,453.56 L76.34,453.87 L76.51,454.18 L76.68,454.50 L76.85,454.82 L77.02,455.15 L77.19,455.48 L77.36,455.82 L77.53,456.17 L77.70,456.51 L77.87,456.87 L78.04,457.22 L78.21,457.58 L78.39,457.94 L78.56,458.31 L78.73,458.68 L78.90,459.05 L79.07,459.42 L79.24,459.80 L79.41,460.18 L79.58,460.56 L79.75,460.94 L79.92,461.33 L80.09,461.71 L80.26,462.10 L80.43,462.48 L80.61,462.87 L80.78,463.26 L80.95,463.65 L81.12,464.03 L81.29,464.42 L81.46,464.81 L81.63,465.19 L81.80,465.58 L81.97,465.96 L82.14,466.34 L82.31,466.72 L82.48,467.10 L82.66,467.47 L82.83,467.85 L83.00,468.22 L83.17,468.58 L83.34,468.95 L83.51,469.31 L83.68,469.66 L83.85,470.02 L84.02,470.37 L84.19,470.71 L84.36,471.05 L84.53,471.39 L84.70,471.72 L84.88,472.04 L85.05,472.36 L85.22,472.68 L85.39,472.99 L85.56,473.29 L85.73,473.59 L85.90,473.88 L86.07,474.17 L86.24,474.44 L86.41,474.72 L86.58,474.98 L86.75,475.24 L86.93,475.49 L87.10,475.73 L87.27,475.97 L87.44,476.20 L87.61,476.42 L87.78,476.63 L87.95,476.83 L88.12,477.03 L88.29,477.22 L88.46,477.40 L88.63,477.57 L88.80,477.73 L88.97,477.89 L89.15,478.03 L89.32,478.17 L89.49,478.30 L89.66,478.42 L89.83,478.53 L90.00,478.63 L90.17,478.72 L90.34,478.80 L90.51,478.87 L90.68,478.94 L90.85,478.99 L91.02,479.03 L91.20,479.07 L91.37,479.09 L91.54,479.11 L91.71,479.12 L91.88,479.11 L92.05,479.10 L92.22,479.08 L92.39,479.05 L92.56,479.02 L92.73,478.97 L92.90,478.91 L93.07,478.85 L93.24,478.78 L93.42,478.70 L93.59,478.61 L93.76,478.51 L93.93,478.41 L94.10,478.29 L94.27,478.17 L94.44,478.04 L94.61,477.91 L94.78,477.76 L94.95,477.61 L95.12,477.45 L95.29,477.28 L95.47,477.11 L95.64,476.92 L95.81,476.73 L95.98,476.54 L96.15,476.34 L96.32,476.13 L96.49,475.91 L96.66,475.69 L96.83,475.46 L97.00,475.23 L97.17,474.99 L97.34,474.75 L97.51,474.50 L97.69,474.25 L97.86,473.99 L98.03,473.72 L98.20,473.46 L98.37,473.18 L98.54,472.91 L98.71,472.63 L98.88,472.35 L99.05,472.06 L99.22,471.77 L99.39,471.48 L99.56,471.18 L99.73,470.89 L99.91,470.59 L100.08,470.29 L100.25,469.99 L100.42,469.68 L100.59,469.38 L100.76,469.07 L100.93,468.77 L101.10,468.46 L101.27,468.15 L101.44,467.85 L101.61,467.54 L101.78,467.24 L101.96,466.93 L102.13,466.63 L102.30,466.33 L102.47,466.03 L102.64,465.73 L102.81,465.43 L102.98,465.14 L103.15,464.85 L103.32,464.56 L103.49,464.27 L103.66,463.99 L103.83,463.71 L104.00,463.44 L104.18,463.17 L104.35,462.90 L104.52,462.64 L104.69,462.38 L104.86,462.13 L105.03,461.88 L105.20,461.64 L105.37,461.40 L105.54,461.17 L105.71,460.94 L105.88,460.72 L106.05,460.51 L106.23,460.30 L106.40,460.10 L106.57,459.91 L106.74,459.72 L106.91,459.54 L107.08,459.37 L107.25,459.20 L107.42,459.05 L107.59,458.90 L107.76,458.75 L107.93,458.62 L108.10,458.49 L108.27,458.37 L108.45,458.26 L108.62,458.16 L108.79,458.06 L108.96,457.98 L109.13,457.90 L109.30,457.83 L109.47,457.77 L109.64,457.71 L109.81,457.67 L109.98,457.63 L110.15,457.61 L110.32,457.59 L110.50,457.58 L110.67,457.58 L110.84,457.59 L111.01,457.60 L111.18,457.62 L111.35,457.65 L111.52,457.69 L111.69,457.73 L111.86,457.79 L112.03,457.84 L112.20,457.91 L112.37,457.98 L112.54,458.06 L112.72,458.15 L112.89,458.24 L113.06,458.35 L113.23,458.45 L113.40,458.57 L113.57,458.69 L113.74,458.81 L113.91,458.95 L114.08,459.09 L114.25,459.23 L114.42,459.38 L114.59,459.54 L114.77,459.70 L114.94,459.87 L115.11,460.05 L115.28,460.23 L115.45,460.41 L115.62,460.60 L115.79,460.79 L115.96,460.99 L116.13,461.19 L116.30,461.39 L116.47,461.60 L116.64,461.82 L116.81,462.03 L116.99,462.25 L117.16,462.48 L117.33,462.70 L117.50,462.93 L117.67,463.16 L117.84,463.39 L118.01,463.63 L118.18,463.87 L118.35,464.10 L118.52,464.34 L118.69,464.58 L118.86,464.83 L119.03,465.07 L119.21,465.31 L119.38,465.55 L119.55,465.80 L119.72,466.04 L119.89,466.28 L120.06,466.52 L120.23,466.76 L120.40,467.00 L120.57,467.24 L120.74,467.47 L120.91,467.71 L121.08,467.94 L121.26,468.17 L121.43,468.39 L121.60,468.62 L121.77,468.84 L121.94,469.06 L122.11,469.27 L122.28,469.48 L122.45,469.69 L122.62,469.89 L122.79,470.09 L122.96,470.29 L123.13,470.48 L123.30,470.66 L123.48,470.84 L123.65,471.02 L123.82,471.19 L123.99,471.35 L124.16,471.51 L124.33,471.66 L124.50,471.81 L124.67,471.95 L124.84,472.09 L125.01,472.22 L125.18,472.34 L125.35,472.46 L125.53,472.57 L125.70,472.67 L125.87,472.77 L126.04,472.86 L126.21,472.94 L126.38,473.02 L126.55,473.09 L126.72,473.15 L126.89,473.20 L127.06,473.25 L127.23,473.29 L127.40,473.32 L127.57,473.34 L127.75,473.36 L127.92,473.37 L128.09,473.37 L128.26,473.37 L128.43,473.36 L128.60,473.35 L128.77,473.34 L128.94,473.32 L129.11,473.30 L129.28,473.27 L129.45,473.24 L129.62,473.21 L129.80,473.17 L129.97,473.13 L130.14,473.09 L130.31,473.04 L130.48,472.99 L130.65,472.93 L130.82,472.87 L130.99,472.81 L131.16,472.74 L131.33,472.67 L131.50,472.59 L131.67,472.52 L131.84,472.44 L132.02,472.35 L132.19,472.26 L132.36,472.17 L132.53,472.08 L132.70,471.98 L132.87,471.88 L133.04,471.77 L133.21,471.66 L133.38,471.55 L133.55,471.44 L133.72,471.32 L133.89,471.20 L134.06,471.08 L134.24,470.95 L134.41,470.82 L134.58,470.69 L134.75,470.56 L134.92,470.42 L135.09,470.28 L135.26,470.14 L135.43,470.00 L135.60,469.85 L135.77,469.70 L135.94,469.55 L136.11,469.40 L136.29,469.24 L136.46,469.09 L136.63,468.93 L136.80,468.76 L136.97,468.60 L137.14,468.44 L137.31,468.27 L137.48,468.10 L137.65,467.93 L137.82,467.76 L137.99,467.59 L138.16,467.42 L138.33,467.24 L138.51,467.07 L138.68,466.89 L138.85,466.71 L139.02,466.53 L139.19,466.35 L139.36,466.17 L139.53,465.99 L139.70,465.81 L139.87,465.63 L140.04,465.45 L140.21,465.27 L140.38,465.08 L140.56,464.90 L140.73,464.72 L140.90,464.53 L141.07,464.35 L141.24,464.17 L141.41,463.99 L141.58,463.80 L141.75,463.62 L141.92,463.44 L142.09,463.26 L142.26,463.08 L142.43,462.90 L142.60,462.72 L142.78,462.55 L142.95,462.37 L143.12,462.19 L143.29,462.02 L143.46,461.85 L143.63,461.68 L143.80,461.51 L143.97,461.34 L144.14,461.17 L144.31,461.00 L144.48,460.84 L144.65,460.68 L144.83,460.52 L145.00,460.36 L145.17,460.20 L145.34,460.05 L145.51,459.90 L145.68,459.75 L145.85,459.60 L146.02,459.45 L146.19,459.31 L146.36,459.17 L146.53,459.03 L146.70,458.90 L146.87,458.76 L147.05,458.63 L147.22,458.51 L147.39,458.38 L147.56,458.26 L147.73,458.14 L147.90,458.03 L148.07,457.91 L148.24,457.80 L148.41,457.70 L148.58,457.59 L148.75,457.49 L148.92,457.40 L149.10,457.30 L149.27,457.21 L149.44,457.13 L149.61,457.04 L149.78,456.96 L149.95,456.89 L150.12,456.82 L150.29,456.75 L150.46,456.68 L150.63,456.62 L150.80,456.56" stroke="#ff0000" stroke-width="1.3" stroke-dasharray="5.5 5"/>
<path d="M31.42,447.05 L31.59,447.40 L31.76,447.74 L31.93,448.08 L32.10,448.41 L32.27,448.73 L32.44,449.05 L32.61,449.36 L32.78,449.67 L32.95,449.97 L33.12,450.26 L33.30,450.55 L33.47,450.83 L33.64,451.11 L33.81,451.38 L33.98,451.65 L34.15,451.91 L34.32,452.16 L34.49,452.41 L34.66,452.66 L34.83,452.90 L35.00,453.14 L35.17,453.37 L35.34,453.60 L35.52,453.82 L35.69,454.04 L35.86,454.26 L36.03,454.47 L36.20,454.68 L36.37,454.88 L36.54,455.08 L36.71,455.28 L36.88,455.47 L37.05,455.65 L37.22,455.84 L37.39,456.02 L37.57,456.20 L37.74,456.37 L37.91,456.54 L38.08,456.71 L38.25,456.87 L38.42,457.03 L38.59,457.19 L38.76,457.35 L38.93,457.50 L39.10,457.65 L39.27,457.79 L39.44,457.94 L39.61,458.08 L39.79,458.21 L39.96,458.35 L40.13,458.48 L40.30,458.61 L40.47,458.74 L40.64,458.86 L40.81,458.99 L40.98,459.11 L41.15,459.22 L41.32,459.34 L41.49,459.45 L41.66,459.56 L41.84,459.67 L42.01,459.78 L42.18,459.89 L42.35,459.99 L42.52,460.09 L42.69,460.19 L42.86,460.29 L43.03,460.38 L43.20,460.47 L43.37,460.57 L43.54,460.66 L43.71,460.74 L43.88,460.83 L44.06,460.91 L44.23,461.00 L44.40,461.08 L44.57,461.16 L44.74,461.24 L44.91,461.31 L45.08,461.39 L45.25,461.46 L45.42,461.54 L45.59,461.61 L45.76,461.68 L45.93,461.75 L46.10,461.81 L46.28,461.88 L46.45,461.94 L46.62,462.01 L46.79,462.07 L46.96,462.13 L47.13,462.19 L47.30,462.25 L47.47,462.31 L47.64,462.36 L47.81,462.42 L47.98,462.47 L48.15,462.52 L48.33,462.58 L48.50,462.63 L48.67,462.68 L48.84,462.73 L49.01,462.78 L49.18,462.82 L49.35,462.87 L49.52,462.91 L49.69,462.96 L49.86,463.00 L50.03,463.05 L50.20,463.09 L50.37,463.13 L50.55,463.17 L50.72,463.21 L50.89,463.25 L51.06,463.29 L51.23,463.32 L51.40,463.36 L51.57,463.40 L51.74,463.43 L51.91,463.47 L52.08,463.50 L52.25,463.54 L52.42,463.57 L52.60,463.60 L52.77,463.63 L52.94,463.66 L53.11,463.69 L53.28,463.72 L53.45,463.75 L53.62,463.78 L53.79,463.81 L53.96,463.84 L54.13,463.86 L54.30,463.89 L54.47,463.91 L54.64,463.94 L54.82,463.97 L54.99,463.99 L55.16,464.01 L55.33,464.04 L55.50,464.06 L55.67,464.08 L55.84,464.11 L56.01,464.13 L56.18,464.15 L56.35,464.17 L56.52,464.19 L56.69,464.21 L56.87,464.23 L57.04,464.25 L57.21,464.27 L57.38,464.29 L57.55,464.30 L57.72,464.32 L57.89,464.34 L58.06,464.36 L58.23,464.37 L58.40,464.39 L58.57,464.41 L58.74,464.42 L58.91,464.44 L59.09,464.45 L59.26,464.47 L59.43,464.48 L59.60,464.50 L59.77,464.51 L59.94,464.53 L60.11,464.54 L60.28,464.55 L60.45,464.57 L60.62,464.58 L60.79,464.59 L60.96,464.60 L61.14,464.62 L61.31,464.63 L61.48,464.64 L61.65,464.65 L61.82,464.66 L61.99,464.67 L62.16,464.69 L62.33,464.70 L62.50,464.71 L62.67,464.72 L62.84,464.73 L63.01,464.74 L63.18,464.75 L63.36,464.76 L63.53,464.76 L63.70,464.77 L63.87,464.78 L64.04,464.79 L64.21,464.80 L64.38,464.81 L64.55,464.82 L64.72,464.82 L64.89,464.83 L65.06,464.84 L65.23,464.85 L65.40,464.86 L65.58,464.86 L65.75,464.87 L65.92,464.88 L66.09,464.88 L66.26,464.89 L66.43,464.90 L66.60,464.90 L66.77,464.91 L66.94,464.92 L67.11,464.92 L67.28,464.93 L67.45,464.93 L67.63,464.94 L67.80,464.95 L67.97,464.95 L68.14,464.96 L68.31,464.96 L68.48,464.97 L68.65,464.97 L68.82,464.98 L68.99,464.98 L69.16,464.99 L69.33,464.99 L69.50,465.00 L69.67,465.00 L69.85,465.01 L70.02,465.01 L70.19,465.02 L70.36,465.02 L70.53,465.02 L70.70,465.03 L70.87,465.03 L71.04,465.04 L71.21,465.04 L71.38,465.04 L71.55,465.05 L71.72,465.05 L71.90,465.05 L72.07,465.06 L72.24,465.06 L72.41,465.07 L72.58,465.07 L72.75,465.07 L72.92,465.07 L73.09,465.08 L73.26,465.08 L73.43,465.08 L73.60,465.09 L73.77,465.09 L73.94,465.09 L74.12,465.10 L74.29,465.10 L74.46,465.10 L74.63,465.10 L74.80,465.11 L74.97,465.11 L75.14,465.11 L75.31,465.11 L75.48,465.12 L75.65,465.12 L75.82,465.12 L75.99,465.12 L76.17,465.13 L76.34,465.13 L76.51,465.13 L76.68,465.13 L76.85,465.13 L77.02,465.14 L77.19,465.14 L77.36,465.14 L77.53,465.14 L77.70,465.14 L77.87,465.14 L78.04,465.15 L78.21,465.15 L78.39,465.15 L78.56,465.15 L78.73,465.15 L78.90,465.16 L79.07,465.16 L79.24,465.16 L79.41,465.16 L79.58,465.16 L79.75,465.16 L79.92,465.16 L80.09,465.17 L80.26,465.17 L80.43,465.17 L80.61,465.17 L80.78,465.17 L80.95,465.17 L81.12,465.17 L81.29,465.17 L81.46,465.18 L81.63,465.18 L81.80,465.18 L81.97,465.18 L82.14,465.18 L82.31,465.18 L82.48,465.18 L82.66,465.18 L82.83,465.18 L83.00,465.19 L83.17,465.19 L83.34,465.19 L83.51,465.19 L83.68,465.19 L83.85,465.19 L84.02,465.19 L84.19,465.19 L84.36,465.19 L84.53,465.19 L84.70,465.19 L84.88,465.20 L85.05,465.20 L85.22,465.20 L85.39,465.20 L85.56,465.20 L85.73,465.20 L85.90,465.20 L86.07,465.20 L86.24,465.20 L86.41,465.20 L86.58,465.20 L86.75,465.20 L86.93,465.20 L87.10,465.20 L87.27,465.21 L87.44,465.21 L87.61,465.21 L87.78,465.21 L87.95,465.21 L88.12,465.21 L88.29,465.21 L88.46,465.21 L88.63,465.21 L88.80,465.21 L88.97,465.21 L89.15,465.21 L89.32,465.21 L89.49,465.21 L89.66,465.21 L89.83,465.21 L90.00,465.21 L90.17,465.21 L90.34,465.21 L90.51,465.22 L90.68,465.22 L90.85,465.22 L91.02,465.22 L91.20,465.22 L91.37,465.22 L91.54,465.22 L91.71,465.22 L91.88,465.22 L92.05,465.22 L92.22,465.22 L92.39,465.22 L92.56,465.22 L92.73,465.22 L92.90,465.22 L93.07,465.22 L93.24,465.22 L93.42,465.22 L93.59,465.22 L93.76,465.22 L93.93,465.22 L94.10,465.22 L94.27,465.22 L94.44,465.22 L94.61,465.22 L94.78,465.22 L94.95,465.22 L95.12,465.22 L95.29,465.22 L95.47,465.22 L95.64,465.23 L95.81,465.23 L95.98,465.23 L96.15,465.23 L96.32,465.23 L96.49,465.23 L96.66,465.23 L96.83,465.23 L97.00,465.23 L97.17,465.23 L97.34,465.23 L97.51,465.23 L97.69,465.23 L97.86,465.23 L98.03,465.23 L98.20,465.23 L98.37,465.23 L98.54,465.23 L98.71,465.23 L98.88,465.23 L99.05,465.23 L99.22,465.23 L99.39,465.23 L99.56,465.23 L99.73,465.23 L99.91,465.23 L100.08,465.23 L100.25,465.23 L100.42,465.23 L100.59,465.23 L100.76,465.23 L100.93,465.23 L101.10,465.23 L101.27,465.23 L101.44,465.23 L101.61,465.23 L101.78,465.23 L101.96,465.23 L102.13,465.23 L102.30,465.23 L102.47,465.23 L102.64,465.23 L102.81,465.23 L102.98,465.23 L103.15,465.23 L103.32,465.23 L103.49,465.23 L103.66,465.23 L103.83,465.23 L104.00,465.23 L104.18,465.23 L104.35,465.23 L104.52,465.23 L104.69,465.23 L104.86,465.23 L105.03,465.23 L105.20,465.23 L105.37,465.23 L105.54,465.23 L105.71,465.23 L105.88,465.23 L106.05,465.23 L106.23,465.23 L106.40,465.23 L106.57,465.23 L106.74,465.23 L106.91,465.23 L107.08,465.23 L107.25,465.23 L107.42,465.23 L107.59,465.23 L107.76,465.23 L107.93,465.23 L108.10,465.23 L108.27,465.23 L108.45,465.23 L108.62,465.23 L108.79,465.23 L108.96,465.23 L109.13,465.23 L109.30,465.23 L109.47,465.23 L109.64,465.23 L109.81,465.23 L109.98,465.23 L110.15,465.24 L110.32,465.24 L110.50,465.24 L110.67,465.24 L110.84,465.24 L111.01,465.24 L111.18,465.24 L111.35,465.24 L111.52,465.24 L111.69,465.24 L111.86,465.24 L112.03,465.24 L112.20,465.24 L112.37,465.24 L112.54,465.24 L112.72,465.24 L112.89,465.24 L113.06,465.24 L113.23,465.24 L113.40,465.24 L113.57,465.24 L113.74,465.24 L113.91,465.24 L114.08,465.24 L114.25,465.24 L114.42,465.24 L114.59,465.24 L114.77,465.24 L114.94,465.24 L115.11,465.24 L115.28,465.24 L115.45,465.24 L115.62,465.24 L115.79,465.24 L115.96,465.24 L116.13,465.24 L116.30,465.24 L116.47,465.24 L116.64,465.24 L116.81,465.24 L116.99,465.24 L117.16,465.24 L117.33,465.24 L117.50,465.24 L117.67,465.24 L117.84,465.24 L118.01,465.24 L118.18,465.24 L118.35,465.24 L118.52,465.24 L118.69,465.24 L118.86,465.24 L119.03,465.24 L119.21,465.24 L119.38,465.24 L119.55,465.24 L119.72,465.24 L119.89,465.24 L120.06,465.24 L120.23,465.24 L120.40,465.24 L120.57,465.24 L120.74,465.24 L120.91,465.24 L121.08,465.24 L121.26,465.24 L121.43,465.24 L121.60,465.24 L121.77,465.24 L121.94,465.24 L122.11,465.24 L122.28,465.24 L122.45,465.24 L122.62,465.24 L122.79,465.24 L122.96,465.24 L123.13,465.24 L123.30,465.24 L123.48,465.24 L123.65,465.24 L123.82,465.24 L123.99,465.24 L124.16,465.24 L124.33,465.24 L124.50,465.24 L124.67,465.24 L124.84,465.24 L125.01,465.24 L125.18,465.24 L125.35,465.24 L125.53,465.24 L125.70,465.24 L125.87,465.24 L126.04,465.24 L126.21,465.24 L126.38,465.24 L126.55,465.24 L126.72,465.24 L126.89,465.24 L127.06,465.24 L127.23,465.24 L127.40,465.24 L127.57,465.24 L127.75,465.24 L127.92,465.24 L128.09,465.24 L128.26,465.24 L128.43,465.24 L128.60,465.24 L128.77,465.24 L128.94,465.24 L129.11,465.24 L129.28,465.24 L129.45,465.24 L129.62,465.24 L129.80,465.24 L129.97,465.24 L130.14,465.24 L130.31,465.24 L130.48,465.24 L130.65,465.24 L130.82,465.24 L130.99,465.24 L131.16,465.24 L131.33,465.24 L131.50,465.24 L131.67,465.24 L131.84,465.24 L132.02,465.24 L132.19,465.24 L132.36,465.24 L132.53,465.24 L132.70,465.24 L132.87,465.24 L133.04,465.24 L133.21,465.24 L133.38,465.24 L133.55,465.24 L133.72,465.24 L133.89,465.24 L134.06,465.24 L134.24,465.24 L134.41,465.24 L134.58,465.24 L134.75,465.24 L134.92,465.24 L135.09,465.24 L135.26,465.24 L135.43,465.24 L135.60,465.24 L135.77,465.24 L135.94,465.24 L136.11,465.24 L136.29,465.24 L136.46,465.24 L136.63,465.24 L136.80,465.24 L136.97,465.24 L137.14,465.24 L137.31,465.24 L137.48,465.24 L137.65,465.24 L137.82,465.24 L137.99,465.24 L138.16,465.24 L138.33,465.24 L138.51,465.24 L138.68,465.24 L138.85,465.24 L139.02,465.24 L139.19,465.24 L139.36,465.24 L139.53,465.24 L139.70,465.24 L139.87,465.24 L140.04,465.24 L140.21,465.24 L140.38,465.24 L140.56,465.24 L140.73,465.24 L140.90,465.24 L141.07,465.24 L141.24,465.24 L141.41,465.24 L141.58,465.24 L141.75,465.24 L141.92,465.24 L142.09,465.24 L142.26,465.24 L142.43,465.24 L142.60,465.24 L142.78,465.24 L142.95,465.24 L143.12,465.24 L143.29,465.24 L143.46,465.24 L143.63,465.24 L143.80,465.24 L143.97,465.24 L144.14,465.24 L144.31,465.24 L144.48,465.24 L144.65,465.24 L144.83,465.24 L145.00,465.24 L145.17,465.24 L145.34,465.24 L145.51,465.24 L145.68,465.24 L145.85,465.24 L146.02,465.24 L146.19,465.24 L146.36,465.24 L146.53,465.24 L146.70,465.24 L146.87,465.24 L147.05,465.24 L147.22,465.24 L147.39,465.24 L147.56,465.24 L147.73,465.24 L147.90,465.24 L148.07,465.24 L148.24,465.24 L148.41,465.24 L148.58,465.24 L148.75,465.24 L148.92,465.24 L149.10,465.24 L149.27,465.24 L149.44,465.24 L149.61,465.24 L149.78,465.24 L149.95,465.24 L150.12,465.24 L150.29,465.24 L150.46,465.24 L150.63,465.24 L150.80,465.24" stroke="#0000ff" stroke-width="1.3" stroke-dasharray="1.3 4.4"/>
<path d="M31.42,466.90 L31.59,467.28 L31.76,467.66 L31.93,468.05 L32.10,468.43 L32.27,468.81 L32.44,469.20 L32.61,469.58 L32.78,469.97 L32.95,470.35 L33.12,470.73 L33.30,471.11 L33.47,471.49 L33.64,471.87 L33.81,472.25 L33.98,472.62 L34.15,473.00 L34.32,473.37 L34.49,473.74 L34.66,474.11 L34.83,474.47 L35.00,474.83 L35.17,475.19 L35.34,475.54 L35.52,475.90 L35.69,476.25 L35.86,476.59 L36.03,476.93 L36.20,477.27 L36.37,477.60 L36.54,477.93 L36.71,478.25 L36.88,478.57 L37.05,478.89 L37.22,479.19 L37.39,479.50 L37.57,479.80 L37.74,480.09 L37.91,480.38 L38.08,480.66 L38.25,480.94 L38.42,481.21 L38.59,481.47 L38.76,481.73 L38.93,481.98 L39.10,482.23 L39.27,482.47 L39.44,482.70 L39.61,482.92 L39.79,483.14 L39.96,483.35 L40.13,483.56 L40.30,483.75 L40.47,483.94 L40.64,484.13 L40.81,484.30 L40.98,484.47 L41.15,484.63 L41.32,484.78 L41.49,484.92 L41.66,485.06 L41.84,485.18 L42.01,485.30 L42.18,485.41 L42.35,485.52 L42.52,485.61 L42.69,485.70 L42.86,485.78 L43.03,485.85 L43.20,485.91 L43.37,485.96 L43.54,486.01 L43.71,486.04 L43.88,486.07 L44.06,486.09 L44.23,486.10 L44.40,486.10 L44.57,486.10 L44.74,486.08 L44.91,486.06 L45.08,486.02 L45.25,485.98 L45.42,485.93 L45.59,485.86 L45.76,485.79 L45.93,485.71 L46.10,485.62 L46.28,485.53 L46.45,485.42 L46.62,485.30 L46.79,485.18 L46.96,485.04 L47.13,484.90 L47.30,484.75 L47.47,484.59 L47.64,484.42 L47.81,484.25 L47.98,484.06 L48.15,483.87 L48.33,483.67 L48.50,483.46 L48.67,483.24 L48.84,483.02 L49.01,482.79 L49.18,482.55 L49.35,482.30 L49.52,482.05 L49.69,481.79 L49.86,481.52 L50.03,481.25 L50.20,480.96 L50.37,480.68 L50.55,480.38 L50.72,480.08 L50.89,479.77 L51.06,479.46 L51.23,479.14 L51.40,478.82 L51.57,478.49 L51.74,478.16 L51.91,477.82 L52.08,477.47 L52.25,477.12 L52.42,476.77 L52.60,476.41 L52.77,476.05 L52.94,475.69 L53.11,475.32 L53.28,474.94 L53.45,474.57 L53.62,474.19 L53.79,473.81 L53.96,473.42 L54.13,473.04 L54.30,472.65 L54.47,472.25 L54.64,471.86 L54.82,471.47 L54.99,471.07 L55.16,470.67 L55.33,470.27 L55.50,469.87 L55.67,469.47 L55.84,469.07 L56.01,468.67 L56.18,468.27 L56.35,467.87 L56.52,467.47 L56.69,467.07 L56.87,466.67 L57.04,466.27 L57.21,465.88 L57.38,465.48 L57.55,465.09 L57.72,464.70 L57.89,464.31 L58.06,463.92 L58.23,463.54 L58.40,463.16 L58.57,462.78 L58.74,462.40 L58.91,462.03 L59.09,461.66 L59.26,461.30 L59.43,460.94 L59.60,460.58 L59.77,460.23 L59.94,459.88 L60.11,459.54 L60.28,459.20 L60.45,458.87 L60.62,458.54 L60.79,458.22 L60.96,457.90 L61.14,457.59 L61.31,457.29 L61.48,456.99 L61.65,456.70 L61.82,456.41 L61.99,456.13 L62.16,455.86 L62.33,455.59 L62.50,455.33 L62.67,455.08 L62.84,454.84 L63.01,454.60 L63.18,454.37 L63.36,454.15 L63.53,453.94 L63.70,453.73 L63.87,453.53 L64.04,453.34 L64.21,453.16 L64.38,452.99 L64.55,452.82 L64.72,452.66 L64.89,452.52 L65.06,452.38 L65.23,452.25 L65.40,452.12 L65.58,452.01 L65.75,451.91 L65.92,451.81 L66.09,451.72 L66.26,451.65 L66.43,451.58 L66.60,451.52 L66.77,451.47 L66.94,451.43 L67.11,451.40 L67.28,451.37 L67.45,451.36 L67.63,451.36 L67.80,451.36 L67.97,451.38 L68.14,451.41 L68.31,451.46 L68.48,451.51 L68.65,451.57 L68.82,451.65 L68.99,451.74 L69.16,451.84 L69.33,451.95 L69.50,452.07 L69.67,452.21 L69.85,452.35 L70.02,452.51 L70.19,452.67 L70.36,452.85 L70.53,453.04 L70.70,453.24 L70.87,453.44 L71.04,453.66 L71.21,453.89 L71.38,454.13 L71.55,454.38 L71.72,454.63 L71.90,454.90 L72.07,455.18 L72.24,455.46 L72.41,455.75 L72.58,456.05 L72.75,456.36 L72.92,456.68 L73.09,457.01 L73.26,457.34 L73.43,457.68 L73.60,458.03 L73.77,458.38 L73.94,458.74 L74.12,459.10 L74.29,459.48 L74.46,459.85 L74.63,460.23 L74.80,460.62 L74.97,461.01 L75.14,461.41 L75.31,461.81 L75.48,462.22 L75.65,462.62 L75.82,463.03 L75.99,463.45 L76.17,463.86 L76.34,464.28 L76.51,464.70 L76.68,465.12 L76.85,465.55 L77.02,465.97 L77.19,466.40 L77.36,466.82 L77.53,467.25 L77.70,467.67 L77.87,468.10 L78.04,468.52 L78.21,468.94 L78.39,469.36 L78.56,469.78 L78.73,470.20 L78.90,470.61 L79.07,471.02 L79.24,471.43 L79.41,471.83 L79.58,472.23 L79.75,472.63 L79.92,473.02 L80.09,473.40 L80.26,473.79 L80.43,474.16 L80.61,474.53 L80.78,474.90 L80.95,475.26 L81.12,475.61 L81.29,475.95 L81.46,476.29 L81.63,476.62 L81.80,476.95 L81.97,477.26 L82.14,477.57 L82.31,477.87 L82.48,478.16 L82.66,478.45 L82.83,478.72 L83.00,478.99 L83.17,479.24 L83.34,479.49 L83.51,479.73 L83.68,479.95 L83.85,480.17 L84.02,480.38 L84.19,480.57 L84.36,480.76 L84.53,480.94 L84.70,481.10 L84.88,481.26 L85.05,481.40 L85.22,481.53 L85.39,481.65 L85.56,481.76 L85.73,481.86 L85.90,481.95 L86.07,482.02 L86.24,482.08 L86.41,482.14 L86.58,482.18 L86.75,482.21 L86.93,482.22 L87.10,482.23 L87.27,482.22 L87.44,482.21 L87.61,482.18 L87.78,482.15 L87.95,482.10 L88.12,482.05 L88.29,481.98 L88.46,481.90 L88.63,481.82 L88.80,481.73 L88.97,481.62 L89.15,481.51 L89.32,481.38 L89.49,481.25 L89.66,481.11 L89.83,480.96 L90.00,480.80 L90.17,480.63 L90.34,480.45 L90.51,480.26 L90.68,480.07 L90.85,479.86 L91.02,479.65 L91.20,479.43 L91.37,479.20 L91.54,478.96 L91.71,478.72 L91.88,478.47 L92.05,478.21 L92.22,477.94 L92.39,477.67 L92.56,477.39 L92.73,477.10 L92.90,476.81 L93.07,476.51 L93.24,476.20 L93.42,475.89 L93.59,475.57 L93.76,475.25 L93.93,474.93 L94.10,474.59 L94.27,474.26 L94.44,473.92 L94.61,473.57 L94.78,473.22 L94.95,472.87 L95.12,472.51 L95.29,472.15 L95.47,471.79 L95.64,471.42 L95.81,471.06 L95.98,470.69 L96.15,470.31 L96.32,469.94 L96.49,469.57 L96.66,469.19 L96.83,468.81 L97.00,468.44 L97.17,468.06 L97.34,467.68 L97.51,467.30 L97.69,466.93 L97.86,466.55 L98.03,466.18 L98.20,465.80 L98.37,465.43 L98.54,465.06 L98.71,464.69 L98.88,464.33 L99.05,463.96 L99.22,463.60 L99.39,463.24 L99.56,462.89 L99.73,462.54 L99.91,462.19 L100.08,461.85 L100.25,461.51 L100.42,461.18 L100.59,460.85 L100.76,460.52 L100.93,460.20 L101.10,459.89 L101.27,459.58 L101.44,459.28 L101.61,458.99 L101.78,458.70 L101.96,458.41 L102.13,458.14 L102.30,457.87 L102.47,457.61 L102.64,457.35 L102.81,457.10 L102.98,456.86 L103.15,456.63 L103.32,456.41 L103.49,456.19 L103.66,455.99 L103.83,455.79 L104.00,455.60 L104.18,455.42 L104.35,455.24 L104.52,455.08 L104.69,454.92 L104.86,454.78 L105.03,454.64 L105.20,454.52 L105.37,454.40 L105.54,454.29 L105.71,454.19 L105.88,454.10 L106.05,454.03 L106.23,453.96 L106.40,453.90 L106.57,453.85 L106.74,453.81 L106.91,453.78 L107.08,453.76 L107.25,453.75 L107.42,453.75 L107.59,453.76 L107.76,453.78 L107.93,453.81 L108.10,453.85 L108.27,453.89 L108.45,453.95 L108.62,454.02 L108.79,454.09 L108.96,454.17 L109.13,454.26 L109.30,454.37 L109.47,454.47 L109.64,454.59 L109.81,454.72 L109.98,454.86 L110.15,455.00 L110.32,455.15 L110.50,455.31 L110.67,455.48 L110.84,455.66 L111.01,455.84 L111.18,456.03 L111.35,456.23 L111.52,456.44 L111.69,456.65 L111.86,456.87 L112.03,457.10 L112.20,457.33 L112.37,457.57 L112.54,457.82 L112.72,458.08 L112.89,458.34 L113.06,458.60 L113.23,458.87 L113.40,459.15 L113.57,459.43 L113.74,459.72 L113.91,460.01 L114.08,460.30 L114.25,460.60 L114.42,460.91 L114.59,461.22 L114.77,461.53 L114.94,461.84 L115.11,462.16 L115.28,462.48 L115.45,462.81 L115.62,463.13 L115.79,463.46 L115.96,463.79 L116.13,464.12 L116.30,464.46 L116.47,464.79 L116.64,465.13 L116.81,465.47 L116.99,465.80 L117.16,466.14 L117.33,466.48 L117.50,466.81 L117.67,467.15 L117.84,467.49 L118.01,467.82 L118.18,468.15 L118.35,468.49 L118.52,468.81 L118.69,469.14 L118.86,469.47 L119.03,469.79 L119.21,470.11 L119.38,470.43 L119.55,470.74 L119.72,471.05 L119.89,471.36 L120.06,471.66 L120.23,471.96 L120.40,472.25 L120.57,472.54 L120.74,472.83 L120.91,473.11 L121.08,473.38 L121.26,473.65 L121.43,473.91 L121.60,474.17 L121.77,474.42 L121.94,474.67 L122.11,474.91 L122.28,475.14 L122.45,475.36 L122.62,475.58 L122.79,475.79 L122.96,476.00 L123.13,476.19 L123.30,476.38 L123.48,476.56 L123.65,476.74 L123.82,476.90 L123.99,477.06 L124.16,477.21 L124.33,477.35 L124.50,477.48 L124.67,477.60 L124.84,477.72 L125.01,477.82 L125.18,477.92 L125.35,478.01 L125.53,478.09 L125.70,478.16 L125.87,478.22 L126.04,478.27 L126.21,478.32 L126.38,478.35 L126.55,478.38 L126.72,478.39 L126.89,478.40 L127.06,478.40 L127.23,478.39 L127.40,478.38 L127.57,478.36 L127.75,478.34 L127.92,478.31 L128.09,478.28 L128.26,478.24 L128.43,478.20 L128.60,478.16 L128.77,478.10 L128.94,478.05 L129.11,477.98 L129.28,477.92 L129.45,477.85 L129.62,477.77 L129.80,477.69 L129.97,477.60 L130.14,477.51 L130.31,477.41 L130.48,477.31 L130.65,477.21 L130.82,477.10 L130.99,476.98 L131.16,476.87 L131.33,476.74 L131.50,476.61 L131.67,476.48 L131.84,476.35 L132.02,476.21 L132.19,476.06 L132.36,475.91 L132.53,475.76 L132.70,475.60 L132.87,475.44 L133.04,475.28 L133.21,475.11 L133.38,474.93 L133.55,474.76 L133.72,474.58 L133.89,474.40 L134.06,474.21 L134.24,474.02 L134.41,473.83 L134.58,473.63 L134.75,473.43 L134.92,473.23 L135.09,473.02 L135.26,472.81 L135.43,472.60 L135.60,472.39 L135.77,472.17 L135.94,471.95 L136.11,471.73 L136.29,471.51 L136.46,471.28 L136.63,471.05 L136.80,470.82 L136.97,470.59 L137.14,470.36 L137.31,470.12 L137.48,469.88 L137.65,469.65 L137.82,469.41 L137.99,469.16 L138.16,468.92 L138.33,468.68 L138.51,468.43 L138.68,468.18 L138.85,467.94 L139.02,467.69 L139.19,467.44 L139.36,467.19 L139.53,466.94 L139.70,466.69 L139.87,466.44 L140.04,466.19 L140.21,465.94 L140.38,465.69 L140.56,465.44 L140.73,465.19 L140.90,464.94 L141.07,464.69 L141.24,464.44 L141.41,464.19 L141.58,463.95 L141.75,463.70 L141.92,463.45 L142.09,463.21 L142.26,462.97 L142.43,462.72 L142.60,462.48 L142.78,462.25 L142.95,462.01 L143.12,461.77 L143.29,461.54 L143.46,461.31 L143.63,461.08 L143.80,460.85 L143.97,460.62 L144.14,460.40 L144.31,460.18 L144.48,459.96 L144.65,459.74 L144.83,459.53 L145.00,459.32 L145.17,459.11 L145.34,458.90 L145.51,458.70 L145.68,458.50 L145.85,458.31 L146.02,458.11 L146.19,457.92 L146.36,457.74 L146.53,457.56 L146.70,457.38 L146.87,457.20 L147.05,457.03 L147.22,456.86 L147.39,456.70 L147.56,456.53 L147.73,456.38 L147.90,456.23 L148.07,456.08 L148.24,455.93 L148.41,455.79 L148.58,455.66 L148.75,455.52 L148.92,455.40 L149.10,455.27 L149.27,455.16 L149.44,455.04 L149.61,454.93 L149.78,454.83 L149.95,454.73 L150.12,454.63 L150.29,454.54 L150.46,454.46 L150.63,454.37 L150.80,454.30" stroke="#800000" stroke-width="1.3" stroke-dasharray="5.5 2.8 1.3 2.4"/>
</g>
<path d="M31.60,436.80 H150.50" fill="none" stroke="#707070" stroke-width="0.9"/>
<path d="M150.50,436.40 V509.40" fill="none" stroke="#444" stroke-width="0.8"/>
<path d="M31.60,436.50 V509.40 H150.80" fill="none" stroke="#000" stroke-width="0.9"/>
<path d="M31.60,437.00 h-2.6 M31.60,446.57 h-2.6 M31.60,456.14 h-2.6 M31.60,465.72 h-2.6 M31.60,475.29 h-2.6 M31.60,484.86 h-2.6 M31.60,494.43 h-2.6 M31.60,504.00 h-2.6 M31.60,441.79 h-1.4 M31.60,451.36 h-1.4 M31.60,460.93 h-1.4 M31.60,470.50 h-1.4 M31.60,480.07 h-1.4 M31.60,489.65 h-1.4 M31.60,499.22 h-1.4 M31.60,508.79 h-1.4 M37.70,509.40 v2.4 M50.27,509.40 v2.4 M62.83,509.40 v2.4 M75.40,509.40 v2.4 M87.97,509.40 v2.4 M100.53,509.40 v2.4 M113.10,509.40 v2.4 M125.67,509.40 v2.4 M138.24,509.40 v2.4 M150.80,509.40 v2.4 M43.98,509.40 v1.3 M56.55,509.40 v1.3 M69.12,509.40 v1.3 M81.68,509.40 v1.3 M94.25,509.40 v1.3 M106.82,509.40 v1.3 M119.39,509.40 v1.3 M131.95,509.40 v1.3 M144.52,509.40 v1.3 " stroke="#000" stroke-width="0.8" fill="none"/>
<path d="M37.70,436.80 v1.1 M43.98,436.80 v1.1 M50.27,436.80 v1.1 M56.55,436.80 v1.1 M62.83,436.80 v1.1 M69.12,436.80 v1.1 M75.40,436.80 v1.1 M81.68,436.80 v1.1 M87.97,436.80 v1.1 M94.25,436.80 v1.1 M100.53,436.80 v1.1 M106.82,436.80 v1.1 M113.10,436.80 v1.1 M119.39,436.80 v1.1 M125.67,436.80 v1.1 M131.95,436.80 v1.1 M138.24,436.80 v1.1 M144.52,436.80 v1.1 M150.80,436.80 v1.1 " stroke="#808080" stroke-width="0.6" fill="none"/>
<text x="28.2" y="438.85" text-anchor="end" class="tk">0.6</text>
<text x="28.2" y="448.42" text-anchor="end" class="tk">0.4</text>
<text x="28.2" y="457.99" text-anchor="end" class="tk">0.2</text>
<text x="28.2" y="467.57" text-anchor="end" class="tk">0.0</text>
<text x="28.2" y="477.14" text-anchor="end" class="tk">-0.2</text>
<text x="28.2" y="486.71" text-anchor="end" class="tk">-0.4</text>
<text x="28.2" y="496.28" text-anchor="end" class="tk">-0.6</text>
<text x="28.2" y="505.85" text-anchor="end" class="tk">-0.8</text>
<text x="37.70" y="516.80" text-anchor="middle" class="tk">1</text>
<text x="50.27" y="516.80" text-anchor="middle" class="tk">2</text>
<text x="62.83" y="516.80" text-anchor="middle" class="tk">3</text>
<text x="75.40" y="516.80" text-anchor="middle" class="tk">4</text>
<text x="87.97" y="516.80" text-anchor="middle" class="tk">5</text>
<text x="100.53" y="516.80" text-anchor="middle" class="tk">6</text>
<text x="113.10" y="516.80" text-anchor="middle" class="tk">7</text>
<text x="125.67" y="516.80" text-anchor="middle" class="tk">8</text>
<text x="138.24" y="516.80" text-anchor="middle" class="tk">9</text>
<text x="150.80" y="516.80" text-anchor="middle" class="tk">10</text>
<rect x="151.30" y="435.20" width="39.50" height="39.30" fill="#fff" stroke="#6a6a6a" stroke-width="0.7"/>
<path d="M154.9,443.30 H168.6" stroke="#000" stroke-width="1.25" fill="none"/>
<text class="lg" fill="#000" stroke="#000"><tspan x="169.10" y="445.35">V</tspan><tspan x="173.40" y="447.35" class="sb">0</tspan><tspan x="175.20" y="445.35">/</tspan><tspan x="176.75" y="445.35">E</tspan><tspan x="180.25" y="447.35" class="sb">F</tspan><tspan x="182.10" y="445.35">=</tspan><tspan x="185.85" y="445.35">-</tspan></text>
<text class="lg" fill="#000" stroke="#000" transform="translate(187.55,445.35) scale(0.7,1)">1</text>
<path d="M154.9,452.00 H168.6" stroke="#ff0000" stroke-width="1.25" fill="none" stroke-dasharray="4.7 5.5"/>
<text class="lg" fill="#ff0000" stroke="#ff0000"><tspan x="169.10" y="454.05">V</tspan><tspan x="173.40" y="456.05" class="sb">0</tspan><tspan x="175.20" y="454.05">/</tspan><tspan x="176.75" y="454.05">E</tspan><tspan x="180.25" y="456.05" class="sb">F</tspan><tspan x="182.10" y="454.05">=</tspan><tspan x="185.50" y="454.05">0</tspan></text>
<path d="M154.9,461.00 H168.6" stroke="#0000ff" stroke-width="1.25" fill="none" stroke-dasharray="1.2 4.8"/>
<text class="lg" fill="#0000ff" stroke="#0000ff"><tspan x="169.10" y="463.05">V</tspan><tspan x="173.40" y="465.05" class="sb">0</tspan><tspan x="175.20" y="463.05">/</tspan><tspan x="176.75" y="463.05">E</tspan><tspan x="180.25" y="465.05" class="sb">F</tspan><tspan x="182.10" y="463.05">=</tspan><tspan x="185.50" y="463.05">1</tspan></text>
<path d="M154.9,469.90 H168.6" stroke="#800000" stroke-width="1.25" fill="none" stroke-dasharray="5.2 2.9 1.2 2.3"/>
<text class="lg" fill="#800000" stroke="#800000"><tspan x="169.10" y="471.95">V</tspan><tspan x="173.40" y="473.95" class="sb">0</tspan><tspan x="175.20" y="471.95">/</tspan><tspan x="176.75" y="471.95">E</tspan><tspan x="180.25" y="473.95" class="sb">F</tspan><tspan x="182.10" y="471.95">=</tspan><tspan x="185.50" y="471.95">2</tspan></text>
<text x="11.9" y="444.9" class="pl">(b)</text>
<text transform="translate(17.1,469) rotate(-90)" text-anchor="middle" class="mr">MR</text>
<text class="ax"><tspan x="78.56" y="524.00">E</tspan><tspan x="82.85" y="526.00" class="sb2">F</tspan><tspan x="84.60" y="524.00">L</tspan><tspan x="88.40" y="524.00">/</tspan><tspan x="90.70" y="524.00" class="rg">ħ</tspan><tspan x="94.35" y="524.00" class="rg">υ</tspan><tspan x="97.90" y="526.00" class="sb2">F</tspan></text>
</svg>
</body></html>
